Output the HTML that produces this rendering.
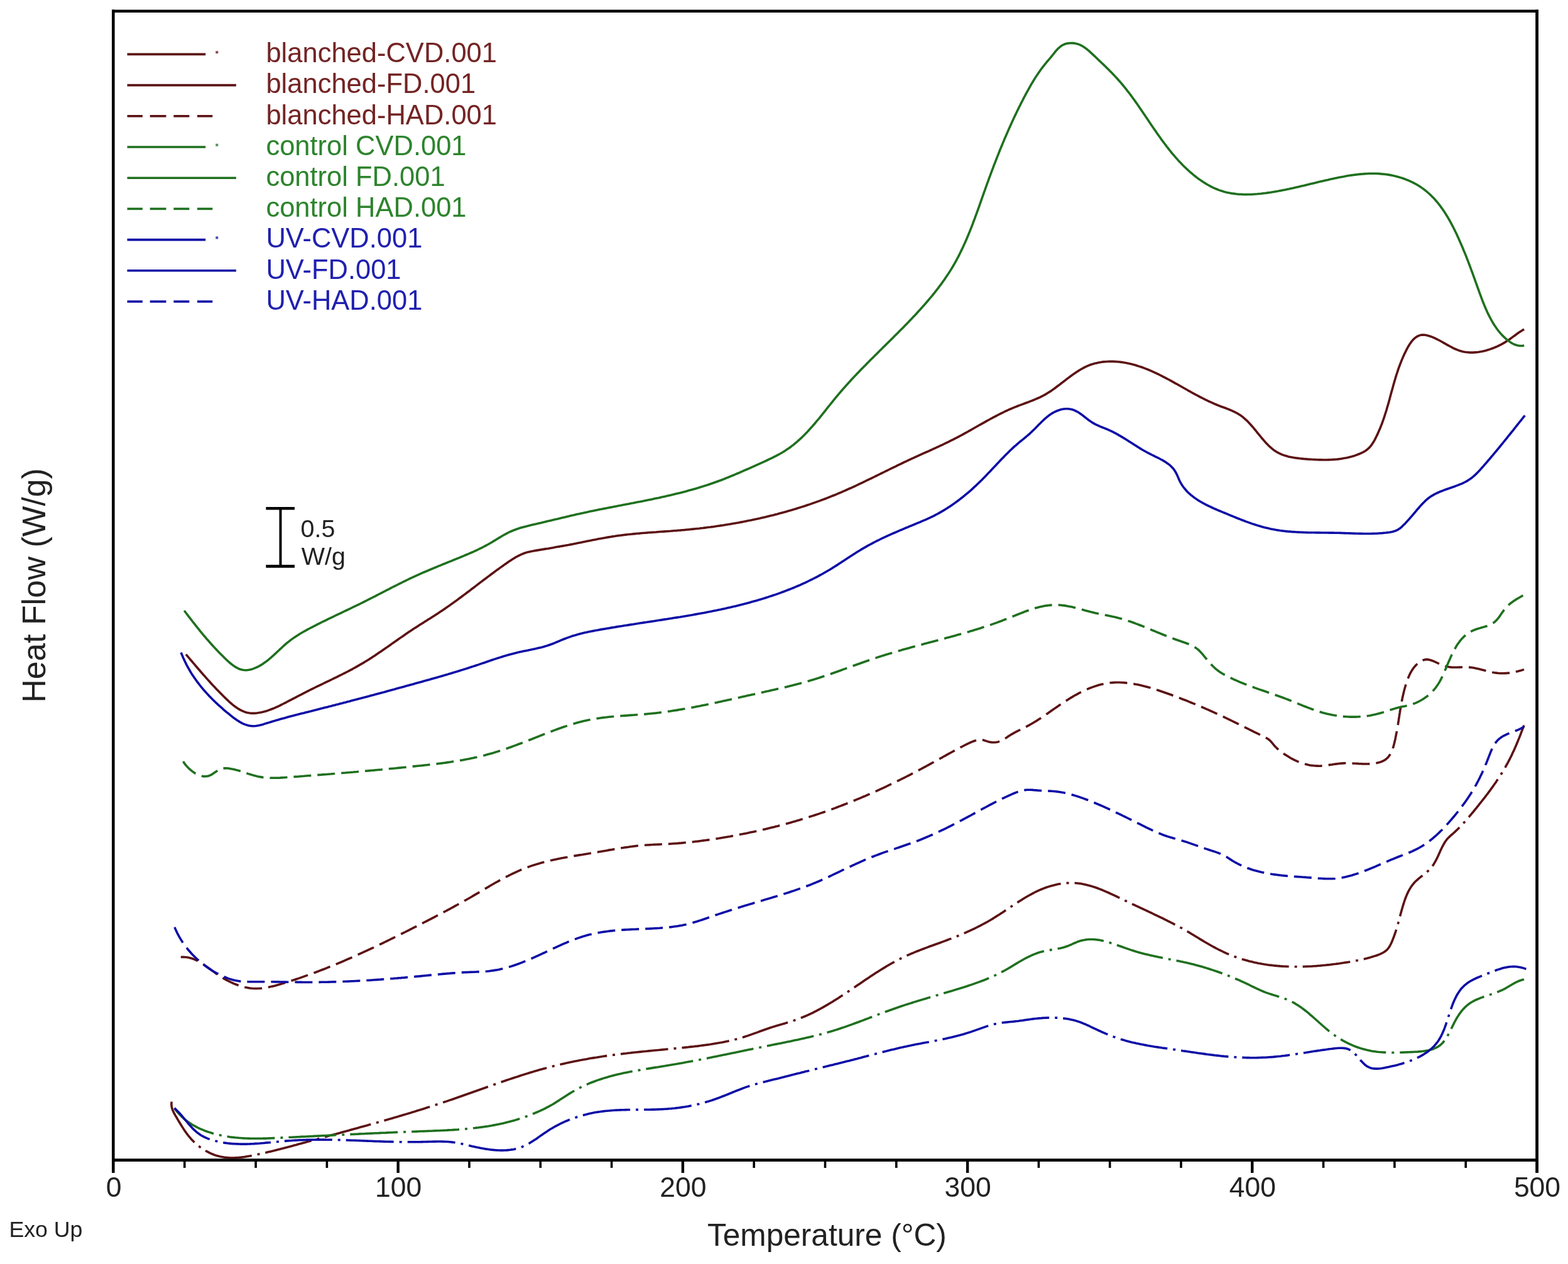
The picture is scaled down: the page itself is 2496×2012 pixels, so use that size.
<!DOCTYPE html>
<html><head><meta charset="utf-8"><title>DSC heat flow</title>
<style>
html,body{margin:0;padding:0;background:#fff;}
body{width:2496px;height:2012px;overflow:hidden;}
svg{display:block;}
text{font-family:"Liberation Sans",Arial,sans-serif;}
</style></head><body>
<svg xmlns="http://www.w3.org/2000/svg" width="2496" height="2012" viewBox="0 0 2496 2012">
<rect width="2496" height="2012" fill="#fff"/>
<g fill="none" stroke-width="3.6" stroke-linejoin="round">
<path stroke="#5c1214" stroke-dasharray="76 9 4 9" d="M273.2,1753.6L272.9,1756.8L273,1759.8L273.5,1762.8L274.3,1765.6L275.4,1768.4L276.7,1771.1L278.1,1773.7L279.6,1776.4L281.2,1779L282.7,1781.6L284.2,1784.2L285.8,1786.8L287.3,1789.3L288.9,1791.9L290.5,1794.4L292.1,1796.9L293.7,1799.4L295.4,1801.8L297.1,1804.2L298.9,1806.5L300.7,1808.9L302.7,1811.1L304.6,1813.4L306.7,1815.6L308.8,1817.7L311,1819.7L313.3,1821.8L315.7,1823.7L318.1,1825.6L320.5,1827.4L323.1,1829.1L325.7,1830.7L328.3,1832.3L331,1833.7L333.7,1835.1L336.4,1836.4L339.2,1837.5L342,1838.6L344.8,1839.5L347.7,1840.3L350.6,1841L353.5,1841.6L356.4,1842.1L359.3,1842.4L362.2,1842.7L365.2,1842.9L368.1,1843L371.1,1843L374,1842.9L377,1842.7L380,1842.5L383,1842.2L386,1841.9L389,1841.5L392,1841L395,1840.5L398,1840L401,1839.4L403.9,1838.8L406.9,1838.2L409.9,1837.6L412.9,1836.9L415.9,1836.3L418.8,1835.6L421.8,1835L424.7,1834.3L427.7,1833.6L430.6,1832.9L433.5,1832.2L436.5,1831.5L439.4,1830.7L442.3,1830L445.2,1829.3L448.1,1828.5L451.1,1827.8L454,1827L456.9,1826.2L459.8,1825.5L462.7,1824.7L465.6,1823.9L468.5,1823.1L471.3,1822.4L474.2,1821.6L477.1,1820.8L480,1820L482.9,1819.2L485.8,1818.4L488.7,1817.6L491.6,1816.8L494.4,1816L497.3,1815.2L500.2,1814.4L503.1,1813.6L506,1812.9L508.9,1812.1L511.8,1811.3L514.7,1810.5L517.6,1809.7L520.4,1808.9L523.3,1808.1L526.2,1807.3L529.1,1806.5L532,1805.7L534.9,1805L537.8,1804.2L540.7,1803.4L543.6,1802.6L546.5,1801.8L549.4,1801L552.3,1800.2L555.2,1799.4L558.1,1798.6L561,1797.8L563.8,1797L566.7,1796.2L569.6,1795.4L572.5,1794.6L575.4,1793.8L578.3,1793L581.2,1792.2L584.1,1791.4L587,1790.6L589.9,1789.8L592.8,1789L595.7,1788.2L598.6,1787.3L601.5,1786.5L604.3,1785.7L607.2,1784.9L610.1,1784.1L613,1783.2L615.9,1782.4L618.8,1781.6L621.7,1780.7L624.6,1779.9L627.4,1779.1L630.3,1778.2L633.2,1777.4L636.1,1776.5L639,1775.7L641.8,1774.8L644.7,1774L647.6,1773.1L650.5,1772.2L653.4,1771.4L656.2,1770.5L659.1,1769.6L662,1768.7L664.8,1767.8L667.7,1766.9L670.6,1766.1L673.4,1765.2L676.3,1764.3L679.2,1763.3L682,1762.4L684.9,1761.5L687.8,1760.6L690.6,1759.7L693.5,1758.7L696.3,1757.8L699.2,1756.9L702,1755.9L704.9,1755L707.7,1754L710.6,1753.1L713.4,1752.1L716.3,1751.1L719.1,1750.2L721.9,1749.2L724.8,1748.2L727.6,1747.2L730.4,1746.2L733.3,1745.2L736.1,1744.2L738.9,1743.2L741.8,1742.2L744.6,1741.2L747.4,1740.2L750.3,1739.2L753.1,1738.2L755.9,1737.2L758.7,1736.2L761.6,1735.2L764.4,1734.2L767.2,1733.2L770.1,1732.2L772.9,1731.2L775.7,1730.2L778.5,1729.2L781.4,1728.2L784.2,1727.2L787,1726.2L789.9,1725.2L792.7,1724.2L795.5,1723.2L798.4,1722.2L801.2,1721.3L804.1,1720.3L806.9,1719.3L809.7,1718.4L812.6,1717.4L815.4,1716.5L818.3,1715.5L821.1,1714.6L824,1713.7L826.8,1712.7L829.7,1711.8L832.5,1710.9L835.4,1710L838.2,1709.1L841.1,1708.2L844,1707.3L846.8,1706.5L849.7,1705.6L852.6,1704.8L855.5,1703.9L858.4,1703.1L861.2,1702.3L864.1,1701.5L867,1700.7L869.9,1699.9L872.8,1699.1L875.7,1698.4L878.6,1697.6L881.5,1696.9L884.4,1696.2L887.4,1695.4L890.3,1694.7L893.2,1694.1L896.1,1693.4L899.1,1692.7L902,1692.1L904.9,1691.4L907.9,1690.8L910.8,1690.2L913.8,1689.6L916.7,1689L919.7,1688.4L922.6,1687.8L925.6,1687.3L928.6,1686.7L931.5,1686.2L934.5,1685.7L937.5,1685.1L940.4,1684.6L943.4,1684.1L946.4,1683.6L949.3,1683.2L952.3,1682.7L955.3,1682.2L958.3,1681.8L961.2,1681.3L964.2,1680.9L967.2,1680.5L970.2,1680.1L973.2,1679.6L976.2,1679.2L979.1,1678.9L982.1,1678.5L985.1,1678.1L988.1,1677.7L991.1,1677.4L994.1,1677L997,1676.7L1000,1676.3L1003,1676L1006,1675.6L1009,1675.3L1012,1675L1014.9,1674.7L1017.9,1674.4L1020.9,1674.1L1023.9,1673.8L1026.9,1673.5L1029.8,1673.2L1032.8,1672.9L1035.8,1672.6L1038.8,1672.3L1041.8,1672L1044.8,1671.7L1047.7,1671.5L1050.7,1671.2L1053.7,1670.9L1056.7,1670.6L1059.7,1670.3L1062.7,1670L1065.7,1669.8L1068.6,1669.5L1071.6,1669.2L1074.6,1668.9L1077.6,1668.6L1080.6,1668.3L1083.6,1668L1086.6,1667.7L1089.5,1667.4L1092.5,1667.1L1095.5,1666.8L1098.5,1666.4L1101.5,1666.1L1104.5,1665.8L1107.5,1665.4L1110.5,1665.1L1113.5,1664.7L1116.4,1664.3L1119.4,1663.9L1122.4,1663.5L1125.4,1663.1L1128.4,1662.7L1131.3,1662.3L1134.3,1661.8L1137.3,1661.3L1140.2,1660.8L1143.2,1660.3L1146.1,1659.8L1149.1,1659.3L1152,1658.7L1155,1658.1L1157.9,1657.5L1160.8,1656.8L1163.8,1656.2L1166.7,1655.5L1169.6,1654.7L1172.5,1654L1175.4,1653.2L1178.3,1652.4L1181.1,1651.6L1184,1650.7L1186.9,1649.8L1189.7,1648.9L1192.5,1647.9L1195.4,1646.9L1198.2,1645.9L1201,1644.9L1203.9,1643.9L1206.7,1642.9L1209.5,1641.8L1212.4,1640.8L1215.2,1639.8L1218,1638.8L1220.9,1637.8L1223.7,1636.8L1226.6,1635.8L1229.4,1634.9L1232.3,1634L1235.2,1633.1L1238.1,1632.3L1240.9,1631.4L1243.8,1630.6L1246.7,1629.7L1249.6,1628.9L1252.5,1628L1255.4,1627.2L1258.3,1626.3L1261.1,1625.4L1264,1624.4L1266.8,1623.4L1269.6,1622.4L1272.4,1621.4L1275.2,1620.3L1277.9,1619.2L1280.7,1618L1283.4,1616.8L1286.2,1615.6L1288.9,1614.3L1291.6,1613.1L1294.3,1611.8L1296.9,1610.4L1299.6,1609.1L1302.2,1607.7L1304.9,1606.3L1307.5,1604.8L1310.1,1603.4L1312.7,1601.9L1315.3,1600.4L1317.9,1598.9L1320.5,1597.3L1323.1,1595.8L1325.7,1594.2L1328.2,1592.6L1330.8,1591L1333.3,1589.4L1335.9,1587.8L1338.4,1586.1L1340.9,1584.5L1343.5,1582.8L1346,1581.2L1348.5,1579.5L1351,1577.8L1353.5,1576.1L1356,1574.4L1358.5,1572.7L1361,1571L1363.5,1569.3L1366,1567.6L1368.5,1565.9L1371,1564.2L1373.5,1562.5L1376,1560.8L1378.5,1559.1L1381,1557.4L1383.5,1555.8L1386,1554.1L1388.5,1552.4L1391.1,1550.8L1393.6,1549.1L1396.1,1547.5L1398.6,1545.9L1401.2,1544.3L1403.7,1542.7L1406.3,1541.1L1408.8,1539.6L1411.4,1538L1414,1536.5L1416.6,1535L1419.2,1533.5L1421.8,1532.1L1424.4,1530.6L1427,1529.2L1429.7,1527.8L1432.3,1526.5L1435,1525.2L1437.7,1523.8L1440.4,1522.6L1443.1,1521.3L1445.8,1520.1L1448.6,1518.9L1451.3,1517.7L1454.1,1516.6L1456.8,1515.4L1459.6,1514.3L1462.4,1513.2L1465.2,1512.1L1468,1511L1470.8,1510L1473.6,1508.9L1476.4,1507.9L1479.2,1506.8L1482,1505.8L1484.9,1504.8L1487.7,1503.7L1490.5,1502.7L1493.3,1501.7L1496.2,1500.7L1499,1499.6L1501.8,1498.6L1504.6,1497.6L1507.4,1496.5L1510.2,1495.4L1513,1494.4L1515.8,1493.3L1518.6,1492.2L1521.4,1491.1L1524.2,1490L1527,1488.8L1529.7,1487.7L1532.5,1486.5L1535.2,1485.3L1538,1484.1L1540.7,1482.9L1543.5,1481.7L1546.2,1480.4L1548.9,1479.1L1551.6,1477.8L1554.3,1476.5L1556.9,1475.2L1559.6,1473.8L1562.3,1472.4L1564.9,1471L1567.6,1469.6L1570.2,1468.2L1572.8,1466.7L1575.4,1465.2L1578,1463.7L1580.6,1462.1L1583.1,1460.5L1585.7,1458.9L1588.2,1457.3L1590.8,1455.7L1593.3,1454L1595.8,1452.4L1598.3,1450.7L1600.8,1449L1603.4,1447.3L1605.9,1445.6L1608.4,1444L1610.9,1442.3L1613.4,1440.6L1615.9,1438.9L1618.5,1437.3L1621,1435.6L1623.6,1434L1626.1,1432.4L1628.7,1430.8L1631.2,1429.2L1633.8,1427.7L1636.4,1426.2L1639.1,1424.7L1641.7,1423.3L1644.4,1421.9L1647,1420.5L1649.7,1419.2L1652.4,1417.9L1655.2,1416.7L1658,1415.5L1660.7,1414.4L1663.6,1413.3L1666.4,1412.3L1669.2,1411.4L1672.1,1410.5L1675,1409.7L1677.9,1408.9L1680.8,1408.2L1683.7,1407.6L1686.6,1407L1689.5,1406.6L1692.5,1406.2L1695.4,1405.9L1698.3,1405.6L1701.3,1405.5L1704.2,1405.4L1707.2,1405.4L1710.1,1405.5L1713,1405.7L1715.9,1406L1718.8,1406.4L1721.8,1406.8L1724.7,1407.4L1727.5,1408L1730.4,1408.7L1733.3,1409.4L1736.2,1410.2L1739.1,1411.1L1741.9,1412L1744.8,1413L1747.6,1414L1750.5,1415.1L1753.3,1416.2L1756.1,1417.4L1758.9,1418.6L1761.8,1419.8L1764.6,1421L1767.4,1422.3L1770.2,1423.6L1773,1424.9L1775.7,1426.2L1778.5,1427.5L1781.3,1428.9L1784,1430.2L1786.8,1431.5L1789.5,1432.9L1792.3,1434.2L1795,1435.5L1797.7,1436.8L1800.4,1438.1L1803.1,1439.3L1805.9,1440.6L1808.6,1441.9L1811.3,1443.1L1814,1444.4L1816.6,1445.7L1819.3,1446.9L1822,1448.2L1824.7,1449.4L1827.4,1450.7L1830.1,1452L1832.8,1453.2L1835.4,1454.5L1838.1,1455.8L1840.8,1457L1843.5,1458.3L1846.2,1459.6L1848.9,1460.9L1851.6,1462.2L1854.3,1463.6L1857,1464.9L1859.7,1466.3L1862.4,1467.6L1865.1,1469L1867.8,1470.4L1870.5,1471.8L1873.2,1473.2L1875.9,1474.6L1878.6,1476.1L1881.3,1477.5L1883.9,1479L1886.5,1480.5L1889.1,1482L1891.6,1483.5L1894.1,1484.9L1896.6,1486.5L1899.1,1488L1901.6,1489.5L1904.1,1491L1906.6,1492.5L1909.1,1494.1L1911.7,1495.6L1914.2,1497.1L1916.8,1498.7L1919.4,1500.2L1922,1501.7L1924.6,1503.2L1927.2,1504.7L1929.9,1506.2L1932.5,1507.6L1935.2,1509.1L1937.9,1510.5L1940.6,1511.8L1943.3,1513.2L1946,1514.5L1948.8,1515.8L1951.5,1517.1L1954.3,1518.3L1957.1,1519.5L1959.8,1520.6L1962.6,1521.7L1965.4,1522.8L1968.3,1523.8L1971.1,1524.8L1973.9,1525.7L1976.8,1526.6L1979.6,1527.5L1982.5,1528.3L1985.4,1529.1L1988.3,1529.9L1991.2,1530.6L1994.1,1531.3L1997,1532L1999.9,1532.6L2002.8,1533.2L2005.7,1533.7L2008.7,1534.3L2011.6,1534.8L2014.6,1535.2L2017.5,1535.7L2020.5,1536.1L2023.4,1536.4L2026.4,1536.8L2029.4,1537.1L2032.4,1537.4L2035.3,1537.6L2038.3,1537.9L2041.3,1538.1L2044.3,1538.3L2047.3,1538.4L2050.3,1538.5L2053.3,1538.6L2056.3,1538.7L2059.3,1538.8L2062.4,1538.8L2065.4,1538.8L2068.4,1538.8L2071.4,1538.7L2074.4,1538.6L2077.4,1538.5L2080.4,1538.4L2083.5,1538.3L2086.5,1538.2L2089.5,1538L2092.5,1537.8L2095.5,1537.6L2098.5,1537.3L2101.6,1537.1L2104.6,1536.8L2107.6,1536.5L2110.6,1536.2L2113.6,1535.9L2116.6,1535.6L2119.6,1535.2L2122.6,1534.8L2125.6,1534.5L2128.5,1534.1L2131.5,1533.7L2134.5,1533.2L2137.5,1532.8L2140.4,1532.3L2143.4,1531.9L2146.3,1531.4L2149.3,1530.9L2152.2,1530.4L2155.2,1529.9L2158.1,1529.3L2161,1528.8L2164,1528.2L2166.9,1527.6L2169.8,1526.9L2172.7,1526.2L2175.6,1525.5L2178.5,1524.7L2181.4,1523.9L2184.3,1523L2187.2,1522.1L2190.1,1521.2L2193,1520.2L2195.9,1519.1L2198.7,1517.9L2201.4,1516.5L2203.9,1515L2206.3,1513.3L2208.4,1511.3L2210.2,1509L2211.9,1506.6L2213.3,1504L2214.7,1501.2L2215.9,1498.5L2217,1495.7L2218.1,1492.8L2219.2,1490L2220.2,1487.2L2221.1,1484.4L2222.1,1481.5L2222.9,1478.7L2223.8,1475.8L2224.6,1472.9L2225.5,1470L2226.3,1467.2L2227.1,1464.3L2227.8,1461.4L2228.6,1458.4L2229.4,1455.5L2230.2,1452.6L2231,1449.7L2231.8,1446.7L2232.7,1443.8L2233.5,1440.9L2234.5,1437.9L2235.4,1435L2236.4,1432.1L2237.4,1429.2L2238.6,1426.4L2239.7,1423.6L2241,1420.9L2242.3,1418.2L2243.8,1415.6L2245.3,1413.1L2246.9,1410.6L2248.6,1408.3L2250.5,1406L2252.5,1403.8L2254.6,1401.8L2256.8,1399.8L2259,1397.9L2261.3,1396.1L2263.7,1394.3L2266,1392.5L2268.3,1390.6L2270.5,1388.8L2272.7,1386.9L2274.8,1384.9L2276.8,1382.8L2278.7,1380.5L2280.5,1378.2L2282.2,1375.7L2283.7,1373.1L2285.2,1370.5L2286.6,1367.8L2288,1365.1L2289.3,1362.3L2290.5,1359.5L2291.8,1356.7L2293,1353.9L2294.3,1351.2L2295.6,1348.5L2297,1345.8L2298.4,1343.3L2299.9,1340.8L2301.6,1338.3L2303.3,1336L2305.2,1333.9L2307.3,1331.8L2309.4,1329.9L2311.7,1328L2313.9,1326L2316,1324.1L2318.2,1322L2320.3,1320L2322.4,1317.9L2324.5,1315.8L2326.5,1313.6L2328.6,1311.5L2330.6,1309.3L2332.6,1307L2334.6,1304.8L2336.5,1302.5L2338.5,1300.2L2340.4,1297.9L2342.3,1295.6L2344.3,1293.3L2346.2,1291L2348.1,1288.6L2350,1286.3L2351.9,1283.9L2353.8,1281.6L2355.6,1279.2L2357.5,1276.9L2359.4,1274.5L2361.2,1272.1L2363.1,1269.8L2364.9,1267.4L2366.8,1265L2368.6,1262.6L2370.4,1260.2L2372.2,1257.8L2373.9,1255.3L2375.7,1252.9L2377.4,1250.5L2379.1,1248L2380.9,1245.6L2382.5,1243.1L2384.2,1240.6L2385.9,1238.1L2387.5,1235.6L2389.1,1233.1L2390.7,1230.5L2392.2,1228L2393.8,1225.4L2395.3,1222.8L2396.8,1220.2L2398.2,1217.6L2399.7,1215L2401.1,1212.4L2402.5,1209.7L2403.8,1207L2405.2,1204.4L2406.5,1201.7L2407.7,1198.9L2409,1196.2L2410.3,1193.5L2411.5,1190.7L2412.7,1188L2413.9,1185.2L2415,1182.5L2416.2,1179.7L2417.3,1176.9L2418.5,1174.1L2419.6,1171.3L2420.7,1168.5L2421.7,1165.7L2422.8,1162.9L2423.9,1160.1L2424.9,1157.3L2426,1154.5"/>
<path stroke="#5c1214" d="M296.1,1041.7L298.1,1044.1L300.1,1046.4L302,1048.7L304,1051L306,1053.3L307.9,1055.6L309.9,1057.9L311.8,1060.2L313.8,1062.5L315.7,1064.7L317.7,1067L319.6,1069.2L321.6,1071.5L323.5,1073.7L325.5,1075.9L327.4,1078.1L329.4,1080.4L331.4,1082.6L333.4,1084.8L335.4,1087L337.4,1089.2L339.4,1091.4L341.5,1093.5L343.5,1095.7L345.6,1097.9L347.7,1100.1L349.8,1102.3L352,1104.4L354.1,1106.6L356.3,1108.8L358.5,1110.9L360.7,1113.1L363,1115.2L365.2,1117.3L367.6,1119.4L369.9,1121.4L372.3,1123.3L374.7,1125.1L377.2,1126.8L379.7,1128.4L382.2,1129.9L384.8,1131.2L387.5,1132.4L390.2,1133.4L392.9,1134.2L395.7,1134.8L398.6,1135.2L401.5,1135.4L404.5,1135.4L407.5,1135.2L410.5,1134.8L413.5,1134.3L416.5,1133.7L419.5,1133L422.4,1132.2L425.3,1131.4L428.1,1130.4L431,1129.3L433.8,1128.2L436.6,1127.1L439.4,1125.8L442.2,1124.6L445,1123.3L447.7,1121.9L450.5,1120.5L453.2,1119.2L455.9,1117.8L458.6,1116.3L461.3,1114.9L463.9,1113.6L466.6,1112.2L469.3,1110.8L471.9,1109.4L474.6,1108L477.2,1106.6L479.9,1105.3L482.6,1103.9L485.2,1102.6L487.9,1101.2L490.5,1099.9L493.2,1098.5L495.8,1097.2L498.5,1095.9L501.2,1094.5L503.9,1093.2L506.6,1091.9L509.3,1090.6L512,1089.3L514.7,1088L517.4,1086.7L520.1,1085.4L522.8,1084.1L525.5,1082.8L528.2,1081.5L530.9,1080.2L533.6,1078.9L536.3,1077.6L539,1076.2L541.7,1074.9L544.4,1073.5L547.1,1072.2L549.8,1070.8L552.4,1069.5L555.1,1068.1L557.8,1066.7L560.4,1065.3L563.1,1063.8L565.7,1062.4L568.3,1060.9L570.9,1059.4L573.5,1057.9L576.1,1056.4L578.7,1054.9L581.3,1053.3L583.8,1051.8L586.3,1050.2L588.9,1048.6L591.4,1046.9L593.9,1045.3L596.4,1043.7L598.9,1042L601.4,1040.3L603.9,1038.6L606.4,1036.9L608.8,1035.2L611.3,1033.5L613.8,1031.8L616.2,1030.1L618.7,1028.4L621.1,1026.7L623.6,1024.9L626,1023.2L628.5,1021.5L631,1019.8L633.4,1018L635.9,1016.3L638.3,1014.6L640.8,1012.9L643.3,1011.2L645.7,1009.5L648.2,1007.8L650.7,1006.1L653.2,1004.4L655.7,1002.8L658.2,1001.1L660.7,999.5L663.3,997.9L665.8,996.2L668.3,994.6L670.9,993L673.4,991.4L675.9,989.8L678.5,988.2L681,986.6L683.6,985L686.1,983.4L688.6,981.8L691.2,980.2L693.7,978.6L696.2,976.9L698.7,975.3L701.2,973.6L703.7,971.9L706.2,970.2L708.7,968.5L711.2,966.8L713.6,965.1L716.1,963.4L718.5,961.6L721,959.9L723.4,958.1L725.9,956.4L728.3,954.6L730.7,952.8L733.1,951L735.6,949.2L738,947.4L740.4,945.6L742.8,943.8L745.2,942L747.6,940.2L750,938.3L752.4,936.5L754.8,934.7L757.2,932.9L759.5,931.1L761.9,929.2L764.3,927.4L766.7,925.6L769.1,923.8L771.5,922L773.9,920.2L776.3,918.4L778.7,916.6L781.1,914.8L783.5,913L785.9,911.2L788.3,909.4L790.7,907.6L793.2,905.9L795.6,904.1L798,902.4L800.4,900.7L802.9,898.9L805.3,897.2L807.8,895.5L810.2,893.8L812.7,892.2L815.2,890.6L817.7,889L820.2,887.4L822.8,886L825.4,884.6L828.1,883.3L830.8,882.1L833.5,881L836.3,880L839.2,879.1L842.1,878.4L845.1,877.7L848.1,877.2L851.1,876.6L854.1,876.1L857.1,875.6L860.1,875.1L863.1,874.6L866.1,874.1L869.1,873.6L872.1,873.2L875,872.7L878,872.2L880.9,871.7L883.9,871.1L886.8,870.6L889.8,870.1L892.7,869.6L895.7,869.1L898.6,868.6L901.6,868L904.5,867.5L907.4,866.9L910.4,866.4L913.3,865.8L916.3,865.2L919.2,864.6L922.2,864L925.1,863.4L928,862.8L931,862.2L933.9,861.6L936.9,861L939.9,860.4L942.8,859.8L945.8,859.2L948.7,858.7L951.7,858.1L954.6,857.5L957.6,857L960.6,856.4L963.5,855.9L966.5,855.4L969.5,854.9L972.4,854.4L975.4,853.9L978.4,853.5L981.3,853L984.3,852.6L987.3,852.2L990.3,851.9L993.2,851.5L996.2,851.1L999.2,850.8L1002.2,850.5L1005.2,850.2L1008.1,849.9L1011.1,849.6L1014.1,849.3L1017.1,849.1L1020.1,848.8L1023.1,848.5L1026.1,848.3L1029,848.1L1032,847.8L1035,847.6L1038,847.4L1041,847.2L1044,847L1047,846.7L1050,846.5L1053,846.3L1056,846.1L1059,845.9L1061.9,845.7L1064.9,845.5L1067.9,845.3L1070.9,845L1073.9,844.8L1076.9,844.6L1079.9,844.3L1082.9,844.1L1085.9,843.8L1088.9,843.6L1091.9,843.3L1094.9,843L1097.9,842.7L1100.8,842.4L1103.8,842.1L1106.8,841.8L1109.8,841.5L1112.8,841.2L1115.8,840.8L1118.8,840.5L1121.8,840.1L1124.7,839.7L1127.7,839.3L1130.7,839L1133.7,838.6L1136.7,838.2L1139.6,837.7L1142.6,837.3L1145.6,836.9L1148.6,836.4L1151.6,836L1154.5,835.5L1157.5,835L1160.5,834.5L1163.4,834.1L1166.4,833.5L1169.4,833L1172.3,832.5L1175.3,832L1178.2,831.4L1181.2,830.9L1184.1,830.3L1187.1,829.7L1190.1,829.1L1193,828.6L1195.9,827.9L1198.9,827.3L1201.8,826.7L1204.8,826.1L1207.7,825.4L1210.6,824.8L1213.6,824.1L1216.5,823.4L1219.4,822.7L1222.3,822L1225.3,821.3L1228.2,820.6L1231.1,819.9L1234,819.1L1236.9,818.4L1239.8,817.6L1242.7,816.8L1245.6,816L1248.5,815.2L1251.4,814.4L1254.3,813.6L1257.2,812.8L1260.1,811.9L1262.9,811.1L1265.8,810.2L1268.7,809.3L1271.5,808.4L1274.4,807.5L1277.3,806.6L1280.1,805.7L1283,804.8L1285.8,803.8L1288.7,802.9L1291.5,801.9L1294.3,800.9L1297.2,799.9L1300,798.9L1302.8,797.9L1305.6,796.9L1308.4,795.8L1311.3,794.8L1314.1,793.7L1316.9,792.6L1319.7,791.5L1322.4,790.4L1325.2,789.3L1328,788.2L1330.8,787.1L1333.6,785.9L1336.3,784.7L1339.1,783.6L1341.8,782.4L1344.6,781.2L1347.3,780L1350.1,778.7L1352.8,777.5L1355.6,776.3L1358.3,775L1361,773.8L1363.7,772.5L1366.5,771.2L1369.2,769.9L1371.9,768.6L1374.6,767.3L1377.3,766L1380,764.7L1382.7,763.4L1385.4,762.1L1388.1,760.8L1390.8,759.5L1393.5,758.2L1396.2,756.8L1398.9,755.5L1401.6,754.2L1404.3,752.8L1407,751.5L1409.7,750.2L1412.4,748.9L1415.1,747.5L1417.8,746.2L1420.5,744.9L1423.2,743.6L1425.9,742.3L1428.6,740.9L1431.3,739.6L1434,738.3L1436.8,737L1439.5,735.7L1442.2,734.5L1444.9,733.2L1447.6,731.9L1450.3,730.6L1453.1,729.4L1455.8,728.1L1458.5,726.9L1461.3,725.6L1464,724.4L1466.7,723.2L1469.5,721.9L1472.2,720.7L1474.9,719.5L1477.7,718.3L1480.4,717L1483.1,715.8L1485.8,714.5L1488.6,713.3L1491.3,712L1494,710.8L1496.7,709.5L1499.5,708.3L1502.2,707L1504.9,705.7L1507.6,704.4L1510.3,703.1L1513,701.7L1515.7,700.4L1518.3,699.1L1521,697.7L1523.7,696.3L1526.4,694.9L1529,693.5L1531.7,692.1L1534.3,690.6L1536.9,689.2L1539.6,687.7L1542.2,686.2L1544.8,684.8L1547.5,683.3L1550.1,681.8L1552.7,680.3L1555.4,678.8L1558,677.3L1560.6,675.8L1563.2,674.4L1565.9,672.9L1568.5,671.4L1571.1,669.9L1573.8,668.5L1576.4,667L1579,665.6L1581.7,664.2L1584.3,662.8L1587,661.4L1589.7,660L1592.3,658.7L1595,657.3L1597.7,656L1600.4,654.7L1603.1,653.5L1605.8,652.2L1608.6,651L1611.3,649.9L1614.1,648.7L1616.8,647.6L1619.6,646.5L1622.4,645.4L1625.2,644.4L1628,643.4L1630.8,642.3L1633.6,641.3L1636.4,640.3L1639.1,639.2L1641.9,638.1L1644.7,637L1647.4,635.9L1650.2,634.7L1652.9,633.5L1655.6,632.3L1658.3,630.9L1660.9,629.6L1663.6,628.1L1666.2,626.6L1668.7,625L1671.3,623.4L1673.8,621.7L1676.3,619.9L1678.8,618.2L1681.3,616.3L1683.7,614.5L1686.2,612.6L1688.6,610.8L1691.1,608.9L1693.5,607L1696,605.1L1698.4,603.2L1700.8,601.4L1703.3,599.5L1705.8,597.7L1708.2,595.9L1710.7,594.2L1713.2,592.5L1715.8,590.9L1718.3,589.3L1720.9,587.8L1723.5,586.3L1726.1,584.9L1728.7,583.6L1731.4,582.4L1734.1,581.3L1736.9,580.3L1739.7,579.4L1742.5,578.6L1745.4,577.9L1748.3,577.2L1751.2,576.7L1754.1,576.3L1757.1,575.9L1760.1,575.7L1763,575.5L1766,575.4L1769.1,575.4L1772.1,575.4L1775.1,575.6L1778.1,575.8L1781.1,576L1784.1,576.4L1787.1,576.8L1790.1,577.3L1793,577.8L1796,578.4L1798.9,579.1L1801.8,579.8L1804.7,580.5L1807.6,581.3L1810.4,582.2L1813.3,583.1L1816.1,584L1818.9,585L1821.8,586.1L1824.5,587.2L1827.3,588.3L1830.1,589.4L1832.9,590.6L1835.6,591.8L1838.4,593.1L1841.1,594.4L1843.8,595.7L1846.5,597L1849.2,598.4L1851.9,599.8L1854.6,601.2L1857.3,602.6L1860,604L1862.6,605.4L1865.3,606.9L1868,608.4L1870.6,609.9L1873.3,611.3L1875.9,612.8L1878.5,614.3L1881.2,615.8L1883.8,617.3L1886.5,618.8L1889.1,620.3L1891.7,621.8L1894.4,623.2L1897,624.7L1899.6,626.2L1902.3,627.6L1904.9,629L1907.6,630.4L1910.2,631.8L1912.9,633.2L1915.5,634.5L1918.2,635.9L1920.9,637.2L1923.5,638.5L1926.2,639.7L1929,640.9L1931.7,642.1L1934.5,643.3L1937.2,644.5L1940,645.6L1942.8,646.7L1945.6,647.7L1948.5,648.8L1951.3,649.8L1954.1,650.9L1956.9,652L1959.7,653.2L1962.4,654.4L1965.1,655.6L1967.8,657L1970.4,658.4L1972.9,660L1975.4,661.6L1977.8,663.4L1980.1,665.3L1982.3,667.3L1984.6,669.3L1986.7,671.5L1988.8,673.7L1990.9,676L1992.9,678.3L1995,680.6L1996.9,683L1998.9,685.4L2000.9,687.8L2002.8,690.3L2004.8,692.7L2006.8,695.1L2008.7,697.5L2010.7,699.8L2012.7,702.1L2014.7,704.4L2016.8,706.6L2018.9,708.7L2021,710.8L2023.2,712.7L2025.4,714.6L2027.7,716.4L2030.1,718L2032.5,719.5L2035,720.9L2037.6,722.2L2040.2,723.3L2042.9,724.4L2045.7,725.3L2048.5,726.1L2051.3,726.9L2054.2,727.5L2057.2,728.1L2060.1,728.6L2063.1,729L2066.1,729.4L2069.2,729.8L2072.2,730.1L2075.3,730.4L2078.4,730.6L2081.5,730.9L2084.5,731.1L2087.6,731.3L2090.7,731.5L2093.7,731.6L2096.8,731.7L2099.9,731.9L2102.9,731.9L2106,732L2109,732L2112,732L2115.1,731.9L2118.1,731.8L2121.1,731.6L2124.1,731.4L2127.1,731.2L2130,730.9L2133,730.5L2136,730.1L2138.9,729.6L2141.8,729.1L2144.7,728.5L2147.6,727.8L2150.5,727.1L2153.4,726.2L2156.2,725.4L2159,724.4L2161.8,723.3L2164.6,722.2L2167.4,721L2170.1,719.6L2172.6,718.2L2175.1,716.5L2177.4,714.7L2179.6,712.7L2181.6,710.4L2183.4,708.1L2185.1,705.6L2186.7,703L2188.2,700.3L2189.6,697.6L2191,694.8L2192.3,692.1L2193.6,689.3L2194.8,686.6L2196,683.8L2197.2,681L2198.3,678.2L2199.4,675.4L2200.4,672.6L2201.4,669.8L2202.4,667L2203.4,664.2L2204.3,661.3L2205.2,658.5L2206.1,655.7L2207,652.8L2207.8,650L2208.6,647.1L2209.5,644.3L2210.3,641.4L2211.1,638.5L2211.9,635.7L2212.6,632.8L2213.4,629.9L2214.2,627L2215,624.1L2215.8,621.3L2216.6,618.4L2217.4,615.5L2218.2,612.6L2219,609.7L2219.8,606.9L2220.7,604L2221.5,601.1L2222.4,598.2L2223.3,595.3L2224.3,592.5L2225.2,589.6L2226.2,586.7L2227.2,583.8L2228.3,581L2229.4,578.1L2230.5,575.3L2231.7,572.4L2232.9,569.6L2234.1,566.7L2235.4,563.9L2236.8,561.1L2238.2,558.2L2239.6,555.4L2241.1,552.7L2242.7,550L2244.3,547.4L2246,544.9L2247.8,542.6L2249.7,540.5L2251.7,538.6L2253.8,536.9L2256,535.5L2258.4,534.4L2260.8,533.6L2263.4,533.1L2266.1,533.1L2269,533.3L2271.9,533.9L2274.8,534.7L2277.8,535.7L2280.8,536.9L2283.8,538.2L2286.7,539.6L2289.6,541L2292.4,542.5L2295.1,544L2297.9,545.6L2300.6,547.1L2303.2,548.6L2305.9,550.1L2308.5,551.5L2311.2,552.9L2313.8,554.3L2316.5,555.5L2319.2,556.6L2321.9,557.7L2324.7,558.6L2327.5,559.4L2330.3,560L2333.2,560.5L2336.1,560.8L2339,561.1L2342,561.1L2345,561.1L2348,560.9L2351,560.7L2354.1,560.3L2357.1,559.8L2360.1,559.2L2363.1,558.5L2366.1,557.7L2369.1,556.8L2372.1,555.9L2375,554.8L2377.9,553.7L2380.8,552.5L2383.6,551.3L2386.4,549.9L2389.1,548.6L2391.8,547.1L2394.4,545.6L2396.9,544.1L2399.4,542.5L2401.8,540.9L2404.1,539.3L2406.4,537.6L2408.7,535.9L2411,534.2L2413.4,532.5L2415.7,530.8L2418.2,529.1L2420.7,527.4L2423.4,525.7L2426.1,524.1"/>
<path stroke="#5c1214" stroke-dasharray="28 10" d="M287.8,1523.5L291,1523.4L294.2,1523.5L297.2,1523.8L300.1,1524.2L303,1524.9L305.8,1525.7L308.5,1526.7L311.1,1527.8L313.8,1529L316.3,1530.4L318.8,1531.8L321.3,1533.4L323.8,1535L326.2,1536.7L328.7,1538.4L331.1,1540.2L333.5,1542L335.9,1543.8L338.4,1545.6L340.9,1547.4L343.4,1549.2L345.9,1551L348.5,1552.7L351,1554.4L353.7,1556L356.3,1557.6L359,1559.1L361.7,1560.6L364.4,1562L367.2,1563.4L369.9,1564.6L372.7,1565.9L375.6,1567L378.4,1568L381.2,1569L384.1,1569.9L387,1570.7L389.9,1571.4L392.8,1572L395.7,1572.6L398.6,1573L401.5,1573.3L404.5,1573.5L407.4,1573.5L410.4,1573.5L413.3,1573.3L416.3,1573.1L419.2,1572.7L422.2,1572.3L425.1,1571.8L428.1,1571.2L431.1,1570.6L434,1569.9L437,1569.2L439.9,1568.4L442.8,1567.6L445.8,1566.7L448.7,1565.8L451.6,1565L454.5,1564.1L457.4,1563.2L460.3,1562.2L463.2,1561.3L466,1560.4L468.9,1559.5L471.8,1558.5L474.6,1557.6L477.5,1556.6L480.3,1555.6L483.1,1554.6L485.9,1553.6L488.8,1552.6L491.6,1551.6L494.4,1550.6L497.2,1549.6L500,1548.6L502.8,1547.5L505.6,1546.5L508.4,1545.4L511.2,1544.3L514,1543.2L516.7,1542.2L519.5,1541.1L522.3,1539.9L525.1,1538.8L527.9,1537.7L530.6,1536.6L533.4,1535.4L536.2,1534.3L538.9,1533.1L541.7,1532L544.5,1530.8L547.2,1529.6L550,1528.4L552.7,1527.2L555.5,1526L558.2,1524.8L561,1523.6L563.7,1522.4L566.5,1521.2L569.2,1519.9L571.9,1518.7L574.7,1517.4L577.4,1516.2L580.1,1514.9L582.9,1513.7L585.6,1512.4L588.3,1511.1L591,1509.8L593.8,1508.6L596.5,1507.3L599.2,1506L601.9,1504.7L604.6,1503.4L607.3,1502.1L610,1500.8L612.7,1499.5L615.5,1498.1L618.2,1496.8L620.9,1495.5L623.6,1494.2L626.3,1492.8L629,1491.5L631.6,1490.2L634.3,1488.8L637,1487.5L639.7,1486.2L642.4,1484.8L645.1,1483.5L647.8,1482.1L650.5,1480.8L653.1,1479.4L655.8,1478.1L658.5,1476.7L661.2,1475.4L663.9,1474L666.5,1472.6L669.2,1471.3L671.9,1469.9L674.5,1468.5L677.2,1467.2L679.9,1465.8L682.5,1464.4L685.2,1463.1L687.9,1461.7L690.5,1460.3L693.2,1458.9L695.8,1457.5L698.5,1456.1L701.1,1454.7L703.8,1453.3L706.4,1451.9L709.1,1450.5L711.7,1449.1L714.4,1447.7L717,1446.3L719.6,1444.8L722.3,1443.4L724.9,1441.9L727.5,1440.5L730.1,1439L732.8,1437.6L735.4,1436.1L738,1434.6L740.6,1433.2L743.2,1431.7L745.9,1430.2L748.5,1428.7L751.1,1427.2L753.7,1425.6L756.3,1424.1L758.9,1422.6L761.5,1421.1L764.1,1419.5L766.7,1418L769.3,1416.4L771.9,1414.9L774.5,1413.4L777.1,1411.9L779.7,1410.3L782.3,1408.8L784.9,1407.3L787.5,1405.8L790.2,1404.3L792.8,1402.9L795.4,1401.4L798.1,1400L800.7,1398.5L803.3,1397.1L806,1395.7L808.7,1394.4L811.3,1393L814,1391.7L816.7,1390.4L819.4,1389.1L822.1,1387.8L824.8,1386.6L827.6,1385.4L830.3,1384.2L833.1,1383.1L835.8,1382L838.6,1380.9L841.4,1379.9L844.2,1378.9L847,1377.9L849.9,1377L852.7,1376.1L855.6,1375.2L858.5,1374.4L861.3,1373.5L864.2,1372.8L867.1,1372L870,1371.3L872.9,1370.5L875.9,1369.9L878.8,1369.2L881.7,1368.5L884.7,1367.9L887.6,1367.3L890.6,1366.7L893.6,1366.1L896.5,1365.6L899.5,1365L902.5,1364.5L905.5,1363.9L908.4,1363.4L911.4,1362.9L914.4,1362.4L917.4,1361.9L920.4,1361.4L923.4,1360.9L926.4,1360.5L929.3,1360L932.3,1359.5L935.3,1359L938.3,1358.5L941.3,1358L944.3,1357.6L947.2,1357.1L950.2,1356.6L953.2,1356L956.1,1355.5L959.1,1355L962,1354.5L965,1354L967.9,1353.4L970.9,1352.9L973.8,1352.4L976.8,1351.9L979.7,1351.4L982.7,1350.9L985.6,1350.4L988.5,1349.9L991.5,1349.5L994.4,1349L997.4,1348.6L1000.4,1348.2L1003.3,1347.7L1006.3,1347.4L1009.2,1347L1012.2,1346.6L1015.2,1346.3L1018.2,1346L1021.2,1345.7L1024.2,1345.5L1027.2,1345.2L1030.2,1345L1033.2,1344.9L1036.2,1344.7L1039.2,1344.5L1042.2,1344.4L1045.2,1344.3L1048.3,1344.1L1051.3,1344L1054.3,1343.8L1057.3,1343.7L1060.3,1343.5L1063.4,1343.4L1066.4,1343.2L1069.4,1343L1072.4,1342.8L1075.4,1342.6L1078.4,1342.4L1081.4,1342.1L1084.4,1341.9L1087.4,1341.6L1090.4,1341.3L1093.4,1341L1096.3,1340.7L1099.3,1340.4L1102.3,1340.1L1105.3,1339.8L1108.3,1339.4L1111.2,1339.1L1114.2,1338.7L1117.2,1338.3L1120.2,1337.9L1123.1,1337.5L1126.1,1337.1L1129.1,1336.7L1132,1336.3L1135,1335.8L1138,1335.4L1140.9,1334.9L1143.9,1334.5L1146.8,1334L1149.8,1333.5L1152.7,1333L1155.7,1332.5L1158.6,1332L1161.6,1331.5L1164.5,1330.9L1167.5,1330.4L1170.4,1329.8L1173.4,1329.3L1176.3,1328.7L1179.3,1328.1L1182.2,1327.6L1185.2,1327L1188.1,1326.4L1191.1,1325.8L1194,1325.1L1197,1324.5L1199.9,1323.9L1202.8,1323.3L1205.8,1322.6L1208.7,1321.9L1211.6,1321.3L1214.6,1320.6L1217.5,1319.9L1220.4,1319.2L1223.4,1318.5L1226.3,1317.8L1229.2,1317.1L1232.1,1316.4L1235.1,1315.6L1238,1314.9L1240.9,1314.1L1243.8,1313.4L1246.7,1312.6L1249.6,1311.8L1252.5,1311L1255.4,1310.2L1258.3,1309.4L1261.2,1308.6L1264.1,1307.7L1267,1306.9L1269.9,1306L1272.8,1305.2L1275.6,1304.3L1278.5,1303.4L1281.4,1302.6L1284.3,1301.7L1287.1,1300.7L1290,1299.8L1292.8,1298.9L1295.7,1298L1298.6,1297L1301.4,1296.1L1304.3,1295.1L1307.1,1294.1L1309.9,1293.2L1312.8,1292.2L1315.6,1291.2L1318.4,1290.2L1321.3,1289.2L1324.1,1288.1L1326.9,1287.1L1329.7,1286.1L1332.5,1285L1335.3,1283.9L1338.1,1282.9L1340.9,1281.8L1343.7,1280.7L1346.5,1279.6L1349.3,1278.5L1352.1,1277.4L1354.9,1276.3L1357.7,1275.2L1360.5,1274L1363.2,1272.9L1366,1271.7L1368.8,1270.6L1371.6,1269.4L1374.3,1268.2L1377.1,1267.1L1379.8,1265.9L1382.6,1264.7L1385.3,1263.5L1388.1,1262.3L1390.8,1261L1393.6,1259.8L1396.3,1258.6L1399,1257.3L1401.7,1256.1L1404.5,1254.8L1407.2,1253.6L1409.9,1252.3L1412.6,1251L1415.3,1249.7L1418,1248.4L1420.7,1247.1L1423.4,1245.8L1426.1,1244.5L1428.8,1243.2L1431.5,1241.9L1434.2,1240.5L1436.9,1239.2L1439.6,1237.9L1442.3,1236.5L1444.9,1235.1L1447.6,1233.8L1450.3,1232.4L1452.9,1231L1455.6,1229.6L1458.2,1228.2L1460.9,1226.8L1463.6,1225.4L1466.2,1224L1468.8,1222.6L1471.5,1221.2L1474.1,1219.8L1476.7,1218.3L1479.4,1216.9L1482,1215.4L1484.6,1214L1487.3,1212.5L1489.9,1211.1L1492.5,1209.6L1495.1,1208.2L1497.8,1206.7L1500.4,1205.3L1503,1203.8L1505.7,1202.4L1508.3,1200.9L1511,1199.4L1513.6,1198L1516.3,1196.5L1518.9,1195.1L1521.6,1193.7L1524.3,1192.2L1527,1190.8L1529.6,1189.4L1532.3,1188L1535.1,1186.5L1537.8,1185.2L1540.5,1183.8L1543.2,1182.5L1546,1181.3L1548.7,1180.2L1551.5,1179.2L1554.2,1178.3L1557,1177.6L1559.8,1177.3L1562.5,1177.5L1565.3,1178.1L1568.1,1178.9L1571,1179.9L1573.9,1180.8L1576.9,1181.4L1579.8,1181.8L1582.8,1181.8L1585.8,1181.5L1588.7,1180.9L1591.5,1180L1594.2,1178.8L1596.9,1177.4L1599.5,1175.8L1602.1,1174.2L1604.6,1172.4L1607.2,1170.8L1609.8,1169.1L1612.5,1167.6L1615.1,1166.1L1617.8,1164.7L1620.5,1163.3L1623.2,1162L1626,1160.7L1628.7,1159.4L1631.3,1158L1634,1156.6L1636.6,1155.2L1639.2,1153.8L1641.8,1152.3L1644.4,1150.8L1646.9,1149.3L1649.4,1147.7L1652,1146.1L1654.4,1144.5L1656.9,1142.9L1659.4,1141.2L1661.9,1139.5L1664.3,1137.9L1666.8,1136.2L1669.2,1134.5L1671.7,1132.8L1674.1,1131L1676.6,1129.3L1679,1127.6L1681.5,1125.9L1684,1124.2L1686.4,1122.5L1688.9,1120.8L1691.5,1119.1L1694,1117.4L1696.5,1115.8L1699.1,1114.2L1701.7,1112.5L1704.3,1110.9L1706.9,1109.4L1709.5,1107.8L1712.2,1106.3L1714.9,1104.9L1717.5,1103.4L1720.2,1102L1722.9,1100.7L1725.7,1099.4L1728.4,1098.1L1731.2,1096.9L1733.9,1095.7L1736.7,1094.6L1739.5,1093.6L1742.3,1092.6L1745.1,1091.7L1748,1090.8L1750.8,1090L1753.7,1089.3L1756.5,1088.7L1759.4,1088.1L1762.3,1087.6L1765.2,1087.2L1768.1,1086.8L1771,1086.6L1774,1086.4L1776.9,1086.3L1779.9,1086.3L1782.8,1086.3L1785.8,1086.5L1788.7,1086.6L1791.7,1086.9L1794.7,1087.2L1797.6,1087.5L1800.6,1087.9L1803.6,1088.4L1806.5,1088.9L1809.5,1089.5L1812.5,1090.1L1815.5,1090.8L1818.4,1091.5L1821.4,1092.2L1824.4,1093L1827.3,1093.8L1830.3,1094.6L1833.2,1095.5L1836.2,1096.4L1839.1,1097.3L1842,1098.3L1845,1099.2L1847.9,1100.2L1850.8,1101.2L1853.7,1102.2L1856.5,1103.2L1859.4,1104.2L1862.3,1105.3L1865.1,1106.3L1867.9,1107.4L1870.8,1108.4L1873.6,1109.5L1876.4,1110.5L1879.2,1111.6L1882,1112.7L1884.7,1113.8L1887.5,1114.8L1890.3,1115.9L1893,1117.1L1895.8,1118.2L1898.5,1119.3L1901.2,1120.4L1904,1121.6L1906.7,1122.7L1909.4,1123.9L1912.1,1125L1914.8,1126.2L1917.6,1127.4L1920.3,1128.6L1923,1129.7L1925.7,1131L1928.4,1132.2L1931.1,1133.4L1933.8,1134.6L1936.5,1135.9L1939.2,1137.1L1942,1138.4L1944.7,1139.6L1947.4,1140.9L1950.1,1142.2L1952.8,1143.5L1955.6,1144.8L1958.3,1146.1L1961.1,1147.5L1963.8,1148.8L1966.5,1150.2L1969.3,1151.5L1972,1152.9L1974.8,1154.2L1977.5,1155.6L1980.2,1156.9L1983,1158.3L1985.7,1159.6L1988.4,1161L1991.1,1162.4L1993.8,1163.7L1996.5,1165.1L1999.2,1166.4L2001.9,1167.7L2004.6,1169L2007.2,1170.4L2009.8,1171.7L2012.5,1173L2015.1,1174.3L2017.6,1175.7L2019.9,1177.3L2022,1179.2L2024,1181.3L2025.9,1183.6L2027.8,1186L2029.8,1188.2L2031.9,1190.3L2034.1,1192.3L2036.4,1194.2L2038.8,1196.1L2041.2,1197.9L2043.6,1199.7L2046.1,1201.4L2048.7,1203L2051.2,1204.6L2053.8,1206.2L2056.5,1207.7L2059.2,1209.1L2061.9,1210.4L2064.6,1211.6L2067.4,1212.8L2070.2,1213.9L2073.1,1214.9L2075.9,1215.8L2078.8,1216.6L2081.7,1217.3L2084.7,1217.9L2087.6,1218.4L2090.6,1218.7L2093.5,1219L2096.5,1219.1L2099.5,1219.2L2102.4,1219.1L2105.4,1218.9L2108.4,1218.6L2111.4,1218.2L2114.4,1217.8L2117.4,1217.4L2120.4,1217L2123.4,1216.5L2126.4,1216.1L2129.4,1215.7L2132.4,1215.4L2135.4,1215.1L2138.4,1214.9L2141.5,1214.8L2144.5,1214.8L2147.6,1214.8L2150.6,1214.9L2153.6,1215.1L2156.7,1215.2L2159.7,1215.4L2162.8,1215.6L2165.8,1215.7L2168.8,1215.9L2171.9,1216L2174.9,1216L2177.9,1216L2180.9,1215.8L2183.9,1215.6L2186.8,1215.3L2189.8,1214.9L2192.7,1214.3L2195.7,1213.5L2198.5,1212.6L2201.2,1211.5L2203.8,1210.2L2206.2,1208.5L2208.3,1206.7L2210.2,1204.6L2211.9,1202.3L2213.4,1199.8L2214.8,1197.1L2216,1194.3L2217.1,1191.4L2218.1,1188.4L2218.9,1185.4L2219.7,1182.3L2220.4,1179.2L2221.1,1176.1L2221.7,1173L2222.3,1170L2222.9,1167L2223.5,1164L2224,1161.1L2224.5,1158.1L2225,1155.2L2225.5,1152.3L2225.9,1149.4L2226.4,1146.5L2226.8,1143.6L2227.3,1140.7L2227.7,1137.8L2228.2,1135L2228.6,1132.1L2229.1,1129.2L2229.6,1126.3L2230.1,1123.4L2230.6,1120.5L2231.1,1117.5L2231.7,1114.6L2232.3,1111.7L2232.9,1108.8L2233.6,1105.8L2234.3,1102.9L2235,1099.9L2235.8,1096.9L2236.6,1093.9L2237.5,1090.9L2238.4,1087.9L2239.4,1084.9L2240.5,1082L2241.6,1079.1L2242.8,1076.2L2244.1,1073.4L2245.5,1070.7L2247,1068L2248.6,1065.5L2250.3,1063.1L2252.1,1060.8L2254,1058.7L2256.1,1056.7L2258.3,1054.9L2260.6,1053.3L2263.1,1051.8L2265.7,1050.7L2268.5,1049.9L2271.3,1049.6L2274.2,1049.9L2277.1,1050.7L2280,1051.7L2282.9,1052.9L2285.7,1054.1L2288.6,1055.5L2291.4,1056.8L2294.2,1058L2297,1059.1L2299.9,1060.1L2302.7,1060.9L2305.6,1061.5L2308.5,1061.9L2311.4,1062.2L2314.4,1062.3L2317.3,1062.3L2320.3,1062.2L2323.3,1062.1L2326.3,1062L2329.2,1061.9L2332.2,1061.9L2335.2,1061.9L2338.1,1062.1L2341.1,1062.4L2344,1062.8L2347,1063.3L2349.9,1063.9L2352.8,1064.5L2355.7,1065.2L2358.6,1066L2361.6,1066.7L2364.5,1067.5L2367.4,1068.2L2370.3,1068.9L2373.2,1069.6L2376.1,1070.2L2379,1070.7L2381.9,1071.1L2384.8,1071.5L2387.8,1071.7L2390.7,1071.8L2393.6,1071.8L2396.6,1071.6L2399.5,1071.4L2402.5,1071.1L2405.4,1070.7L2408.3,1070.2L2411.3,1069.7L2414.2,1069L2417.2,1068.3L2420.1,1067.5L2423.1,1066.6L2426,1065.6"/>
<path stroke="#1f701f" stroke-dasharray="76 9 4 9" d="M277.7,1763.9L279.5,1766.4L281.3,1768.8L283.2,1771.1L285.3,1773.4L287.3,1775.5L289.5,1777.6L291.7,1779.6L293.9,1781.6L296.3,1783.4L298.6,1785.2L301.1,1786.9L303.6,1788.6L306.1,1790.2L308.7,1791.7L311.3,1793.1L313.9,1794.5L316.6,1795.8L319.4,1797.1L322.1,1798.2L324.9,1799.4L327.7,1800.5L330.6,1801.5L333.5,1802.4L336.3,1803.3L339.2,1804.2L342.1,1805L345.1,1805.7L348,1806.4L350.9,1807.1L353.9,1807.7L356.8,1808.2L359.8,1808.8L362.7,1809.2L365.7,1809.7L368.7,1810.1L371.6,1810.4L374.6,1810.8L377.6,1811L380.6,1811.3L383.5,1811.5L386.5,1811.7L389.5,1811.9L392.5,1812L395.5,1812.1L398.5,1812.2L401.5,1812.2L404.5,1812.3L407.5,1812.3L410.5,1812.3L413.5,1812.2L416.5,1812.2L419.5,1812.1L422.5,1812.1L425.5,1812L428.5,1811.9L431.5,1811.8L434.6,1811.6L437.6,1811.5L440.6,1811.4L443.6,1811.2L446.6,1811.1L449.6,1810.9L452.6,1810.8L455.6,1810.6L458.6,1810.5L461.6,1810.3L464.6,1810.2L467.7,1810L470.7,1809.9L473.7,1809.7L476.7,1809.6L479.7,1809.4L482.7,1809.3L485.7,1809.2L488.7,1809L491.7,1808.9L494.7,1808.7L497.7,1808.6L500.7,1808.4L503.7,1808.3L506.7,1808.1L509.7,1808L512.7,1807.8L515.7,1807.7L518.7,1807.5L521.7,1807.4L524.7,1807.2L527.7,1807.1L530.7,1806.9L533.7,1806.8L536.7,1806.7L539.7,1806.5L542.7,1806.4L545.6,1806.2L548.6,1806.1L551.6,1805.9L554.6,1805.8L557.6,1805.6L560.6,1805.5L563.6,1805.4L566.6,1805.2L569.6,1805.1L572.6,1804.9L575.6,1804.8L578.6,1804.7L581.6,1804.5L584.6,1804.4L587.6,1804.3L590.6,1804.1L593.6,1804L596.6,1803.8L599.6,1803.7L602.6,1803.6L605.6,1803.4L608.6,1803.3L611.6,1803.2L614.6,1803.1L617.6,1802.9L620.6,1802.8L623.6,1802.7L626.6,1802.5L629.6,1802.4L632.6,1802.3L635.6,1802.2L638.6,1802L641.6,1801.9L644.6,1801.8L647.6,1801.7L650.6,1801.5L653.6,1801.4L656.6,1801.3L659.7,1801.2L662.7,1801.1L665.7,1801L668.7,1800.8L671.7,1800.7L674.7,1800.6L677.7,1800.5L680.7,1800.4L683.8,1800.3L686.8,1800.2L689.8,1800L692.8,1799.9L695.8,1799.8L698.8,1799.7L701.8,1799.5L704.9,1799.4L707.9,1799.2L710.9,1799.1L713.9,1798.9L716.9,1798.7L719.9,1798.6L722.9,1798.4L725.9,1798.2L728.9,1798L731.9,1797.7L734.9,1797.5L737.9,1797.3L740.9,1797L743.9,1796.7L746.9,1796.4L749.9,1796.1L752.8,1795.8L755.8,1795.5L758.8,1795.1L761.8,1794.8L764.7,1794.4L767.7,1794L770.7,1793.6L773.6,1793.1L776.6,1792.7L779.5,1792.2L782.5,1791.7L785.4,1791.1L788.4,1790.6L791.3,1790L794.2,1789.4L797.2,1788.8L800.1,1788.2L803,1787.5L805.9,1786.8L808.8,1786.1L811.7,1785.3L814.6,1784.5L817.5,1783.7L820.4,1782.9L823.3,1782L826.1,1781.1L829,1780.2L831.8,1779.2L834.7,1778.2L837.5,1777.2L840.4,1776.2L843.2,1775.1L846,1774L848.8,1772.8L851.6,1771.7L854.3,1770.5L857.1,1769.3L859.8,1768.1L862.5,1766.8L865.2,1765.6L867.8,1764.3L870.4,1762.9L873,1761.6L875.6,1760.2L878.2,1758.7L880.8,1757.2L883.4,1755.6L885.9,1754L888.5,1752.4L891,1750.8L893.6,1749.1L896.1,1747.5L898.7,1745.8L901.2,1744.2L903.8,1742.5L906.4,1740.9L909,1739.3L911.5,1737.8L914.2,1736.3L916.8,1734.8L919.4,1733.3L922.1,1731.9L924.7,1730.6L927.4,1729.3L930.1,1728L932.9,1726.8L935.6,1725.6L938.3,1724.4L941.1,1723.3L943.9,1722.2L946.6,1721.2L949.4,1720.1L952.3,1719.1L955.1,1718.2L957.9,1717.3L960.7,1716.4L963.6,1715.5L966.5,1714.7L969.3,1713.8L972.2,1713.1L975.1,1712.3L978,1711.5L980.9,1710.8L983.8,1710.1L986.7,1709.4L989.7,1708.8L992.6,1708.1L995.5,1707.5L998.5,1706.9L1001.4,1706.3L1004.4,1705.8L1007.4,1705.2L1010.3,1704.6L1013.3,1704.1L1016.3,1703.6L1019.3,1703.1L1022.2,1702.5L1025.2,1702L1028.2,1701.5L1031.2,1701.1L1034.2,1700.6L1037.2,1700.1L1040.2,1699.6L1043.2,1699.1L1046.1,1698.7L1049.1,1698.2L1052.1,1697.7L1055.1,1697.2L1058.1,1696.8L1061.1,1696.3L1064.1,1695.8L1067,1695.3L1070,1694.8L1073,1694.3L1076,1693.8L1078.9,1693.2L1081.9,1692.7L1084.9,1692.2L1087.8,1691.7L1090.8,1691.1L1093.7,1690.6L1096.7,1690L1099.7,1689.5L1102.6,1688.9L1105.6,1688.4L1108.5,1687.8L1111.5,1687.2L1114.4,1686.7L1117.3,1686.1L1120.3,1685.5L1123.2,1684.9L1126.2,1684.4L1129.1,1683.8L1132.1,1683.2L1135,1682.6L1137.9,1682L1140.9,1681.4L1143.8,1680.8L1146.7,1680.2L1149.7,1679.6L1152.6,1679L1155.5,1678.4L1158.5,1677.8L1161.4,1677.2L1164.3,1676.6L1167.3,1676L1170.2,1675.4L1173.1,1674.8L1176.1,1674.2L1179,1673.6L1181.9,1672.9L1184.9,1672.3L1187.8,1671.7L1190.8,1671.1L1193.7,1670.5L1196.6,1669.9L1199.6,1669.3L1202.5,1668.7L1205.4,1668.1L1208.4,1667.5L1211.3,1666.9L1214.3,1666.3L1217.2,1665.7L1220.2,1665.1L1223.1,1664.5L1226.1,1663.9L1229,1663.3L1232,1662.7L1234.9,1662.1L1237.9,1661.6L1240.8,1661L1243.8,1660.4L1246.7,1659.8L1249.7,1659.2L1252.6,1658.6L1255.6,1658L1258.5,1657.4L1261.5,1656.7L1264.4,1656.1L1267.3,1655.5L1270.3,1654.9L1273.2,1654.2L1276.2,1653.6L1279.1,1652.9L1282,1652.2L1285,1651.6L1287.9,1650.9L1290.8,1650.2L1293.7,1649.5L1296.7,1648.8L1299.6,1648L1302.5,1647.3L1305.4,1646.6L1308.3,1645.8L1311.2,1645L1314.1,1644.2L1317,1643.4L1319.9,1642.6L1322.8,1641.7L1325.6,1640.9L1328.5,1640L1331.4,1639.1L1334.2,1638.2L1337.1,1637.3L1339.9,1636.3L1342.8,1635.4L1345.6,1634.4L1348.5,1633.4L1351.3,1632.4L1354.1,1631.4L1356.9,1630.4L1359.8,1629.3L1362.6,1628.3L1365.4,1627.3L1368.2,1626.2L1371,1625.1L1373.8,1624.1L1376.6,1623L1379.5,1621.9L1382.3,1620.9L1385.1,1619.8L1387.9,1618.7L1390.7,1617.6L1393.5,1616.6L1396.3,1615.5L1399.1,1614.4L1401.9,1613.4L1404.7,1612.3L1407.6,1611.3L1410.4,1610.2L1413.2,1609.2L1416,1608.2L1418.9,1607.2L1421.7,1606.2L1424.5,1605.2L1427.4,1604.2L1430.2,1603.2L1433,1602.3L1435.9,1601.3L1438.7,1600.4L1441.6,1599.4L1444.5,1598.5L1447.3,1597.6L1450.2,1596.7L1453,1595.8L1455.9,1594.9L1458.8,1594L1461.6,1593.1L1464.5,1592.3L1467.4,1591.4L1470.3,1590.5L1473.1,1589.7L1476,1588.8L1478.9,1587.9L1481.8,1587.1L1484.6,1586.2L1487.5,1585.4L1490.4,1584.5L1493.3,1583.7L1496.2,1582.8L1499,1582L1501.9,1581.1L1504.8,1580.3L1507.7,1579.4L1510.6,1578.6L1513.5,1577.7L1516.3,1576.9L1519.2,1576L1522.1,1575.1L1525,1574.3L1527.8,1573.4L1530.7,1572.5L1533.6,1571.6L1536.4,1570.7L1539.3,1569.8L1542.2,1568.8L1545,1567.9L1547.9,1566.9L1550.7,1565.9L1553.5,1564.9L1556.3,1563.9L1559.2,1562.9L1562,1561.8L1564.8,1560.8L1567.6,1559.7L1570.4,1558.5L1573.1,1557.4L1575.9,1556.2L1578.7,1555L1581.4,1553.8L1584.1,1552.5L1586.8,1551.2L1589.6,1549.9L1592.3,1548.5L1594.9,1547.1L1597.6,1545.7L1600.3,1544.2L1602.9,1542.7L1605.5,1541.2L1608.2,1539.6L1610.8,1538.1L1613.4,1536.5L1616,1534.9L1618.6,1533.4L1621.2,1531.8L1623.9,1530.3L1626.5,1528.8L1629.1,1527.3L1631.8,1525.8L1634.4,1524.4L1637.1,1523.1L1639.8,1521.8L1642.5,1520.5L1645.2,1519.4L1647.9,1518.3L1650.7,1517.2L1653.5,1516.3L1656.3,1515.4L1659.1,1514.7L1662,1514L1664.9,1513.4L1667.8,1512.9L1670.7,1512.4L1673.7,1511.9L1676.6,1511.4L1679.6,1510.9L1682.5,1510.4L1685.5,1509.8L1688.4,1509.2L1691.3,1508.5L1694.2,1507.7L1697,1506.8L1699.9,1505.8L1702.6,1504.7L1705.4,1503.5L1708.1,1502.2L1710.8,1501L1713.6,1499.8L1716.3,1498.7L1719.2,1497.8L1722,1497L1724.8,1496.4L1727.7,1495.9L1730.6,1495.5L1733.5,1495.3L1736.4,1495.2L1739.3,1495.3L1742.2,1495.4L1745.2,1495.7L1748.1,1496.1L1751,1496.6L1754,1497.2L1756.9,1497.8L1759.9,1498.6L1762.8,1499.4L1765.8,1500.3L1768.7,1501.2L1771.7,1502.1L1774.6,1503.1L1777.6,1504.1L1780.5,1505.2L1783.5,1506.2L1786.4,1507.3L1789.4,1508.4L1792.3,1509.4L1795.2,1510.4L1798.1,1511.4L1801,1512.4L1803.9,1513.3L1806.8,1514.2L1809.7,1515.1L1812.6,1515.9L1815.5,1516.7L1818.4,1517.5L1821.2,1518.2L1824.1,1518.9L1827,1519.6L1829.9,1520.3L1832.7,1520.9L1835.6,1521.6L1838.5,1522.2L1841.4,1522.8L1844.3,1523.4L1847.2,1524L1850.1,1524.6L1853,1525.1L1855.9,1525.7L1858.9,1526.3L1861.8,1526.9L1864.7,1527.4L1867.6,1528L1870.6,1528.6L1873.5,1529.2L1876.5,1529.8L1879.4,1530.4L1882.3,1531L1885.3,1531.7L1888.2,1532.3L1891.1,1533L1894.1,1533.7L1897,1534.4L1899.9,1535.1L1902.9,1535.9L1905.8,1536.7L1908.7,1537.5L1911.6,1538.3L1914.5,1539.1L1917.4,1540L1920.3,1540.9L1923.2,1541.8L1926,1542.7L1928.9,1543.6L1931.8,1544.6L1934.6,1545.5L1937.5,1546.5L1940.3,1547.5L1943.2,1548.5L1946,1549.6L1948.8,1550.6L1951.6,1551.7L1954.4,1552.8L1957.2,1553.9L1960,1555.1L1962.8,1556.2L1965.6,1557.4L1968.3,1558.5L1971.1,1559.7L1973.8,1560.9L1976.5,1562.2L1979.3,1563.4L1982,1564.6L1984.7,1565.9L1987.4,1567.2L1990,1568.5L1992.7,1569.8L1995.4,1571.1L1998,1572.4L2000.7,1573.7L2003.4,1574.9L2006.1,1576.1L2008.9,1577.3L2011.6,1578.5L2014.4,1579.6L2017.3,1580.6L2020.2,1581.6L2023.1,1582.5L2026,1583.5L2028.9,1584.4L2031.8,1585.3L2034.8,1586.2L2037.7,1587.1L2040.6,1588.1L2043.5,1589.1L2046.3,1590.1L2049.1,1591.2L2051.9,1592.4L2054.6,1593.7L2057.3,1595L2059.9,1596.4L2062.4,1597.9L2064.9,1599.5L2067.4,1601.1L2069.9,1602.7L2072.3,1604.4L2074.7,1606.2L2077,1608L2079.4,1609.8L2081.7,1611.7L2084,1613.6L2086.2,1615.6L2088.5,1617.5L2090.7,1619.5L2093,1621.5L2095.2,1623.5L2097.5,1625.5L2099.7,1627.5L2102,1629.5L2104.2,1631.5L2106.5,1633.5L2108.8,1635.5L2111.1,1637.5L2113.4,1639.4L2115.7,1641.3L2118.1,1643.2L2120.5,1645L2122.9,1646.8L2125.4,1648.6L2127.9,1650.3L2130.4,1652L2133,1653.6L2135.6,1655.1L2138.2,1656.7L2140.9,1658.1L2143.6,1659.5L2146.3,1660.9L2149,1662.1L2151.8,1663.4L2154.6,1664.6L2157.4,1665.7L2160.2,1666.7L2163,1667.7L2165.9,1668.6L2168.7,1669.5L2171.6,1670.3L2174.5,1671.1L2177.4,1671.7L2180.2,1672.3L2183.1,1672.9L2186,1673.4L2189,1673.8L2191.9,1674.2L2194.8,1674.5L2197.7,1674.7L2200.7,1675L2203.6,1675.1L2206.6,1675.3L2209.6,1675.4L2212.5,1675.4L2215.5,1675.5L2218.5,1675.5L2221.6,1675.4L2224.6,1675.4L2227.7,1675.3L2230.7,1675.2L2233.8,1675.1L2236.9,1675L2240,1674.9L2243.2,1674.8L2246.3,1674.6L2249.5,1674.5L2252.7,1674.3L2255.8,1674.2L2259,1673.9L2262.1,1673.6L2265.2,1673.3L2268.3,1672.9L2271.3,1672.4L2274.2,1671.8L2277.1,1671L2279.9,1670.2L2282.6,1669.2L2285.2,1668.1L2287.7,1666.9L2290,1665.4L2292.3,1663.8L2294.4,1662L2296.4,1660.1L2298.2,1657.9L2300,1655.7L2301.7,1653.2L2303.2,1650.7L2304.7,1648.1L2306.2,1645.4L2307.6,1642.7L2309,1639.9L2310.4,1637L2311.8,1634.2L2313.2,1631.4L2314.6,1628.6L2316,1625.8L2317.5,1623.1L2319,1620.5L2320.6,1617.9L2322.3,1615.3L2324,1612.9L2325.7,1610.5L2327.6,1608.2L2329.5,1606L2331.5,1603.9L2333.6,1601.9L2335.8,1600L2338.1,1598.2L2340.4,1596.5L2342.9,1595L2345.5,1593.6L2348.1,1592.2L2350.8,1591L2353.6,1589.8L2356.4,1588.6L2359.3,1587.6L2362.2,1586.5L2365.1,1585.5L2368,1584.5L2371,1583.6L2373.9,1582.6L2376.9,1581.6L2379.8,1580.5L2382.7,1579.5L2385.5,1578.4L2388.3,1577.2L2391.1,1576L2393.8,1574.7L2396.4,1573.3L2399,1571.8L2401.5,1570.3L2404.1,1568.8L2406.6,1567.3L2409.1,1565.8L2411.7,1564.4L2414.4,1563L2417.1,1561.8L2420,1560.7L2422.9,1559.7L2426,1558.9"/>
<path stroke="#1f701f" d="M293.3,972L295.2,974.5L297.1,977L298.9,979.4L300.8,981.8L302.6,984.2L304.5,986.6L306.3,989L308.2,991.4L310,993.7L311.9,996.1L313.7,998.4L315.6,1000.7L317.4,1003L319.3,1005.3L321.2,1007.6L323,1009.8L324.9,1012.1L326.8,1014.3L328.7,1016.6L330.7,1018.8L332.6,1021L334.6,1023.3L336.6,1025.5L338.6,1027.7L340.6,1029.9L342.6,1032.1L344.7,1034.3L346.8,1036.5L348.9,1038.7L351.1,1040.9L353.3,1043.1L355.5,1045.3L357.7,1047.5L360,1049.7L362.3,1051.9L364.6,1054L367,1056L369.4,1057.9L371.9,1059.8L374.4,1061.4L376.9,1062.9L379.5,1064.2L382.1,1065.2L384.8,1066L387.6,1066.5L390.4,1066.7L393.3,1066.7L396.1,1066.3L399,1065.7L401.9,1064.9L404.7,1063.9L407.5,1062.7L410.2,1061.5L412.8,1060.1L415.4,1058.6L418,1057L420.4,1055.3L422.9,1053.6L425.3,1051.8L427.6,1049.9L430,1047.9L432.3,1045.9L434.6,1043.9L436.8,1041.8L439.1,1039.7L441.3,1037.6L443.6,1035.5L445.8,1033.4L448.1,1031.3L450.3,1029.2L452.6,1027.2L454.9,1025.2L457.2,1023.2L459.6,1021.3L462,1019.4L464.4,1017.6L466.8,1015.9L469.3,1014.2L471.8,1012.5L474.3,1010.9L476.8,1009.3L479.4,1007.8L482,1006.3L484.6,1004.8L487.2,1003.4L489.8,1001.9L492.4,1000.5L495.1,999.2L497.7,997.8L500.4,996.4L503.1,995.1L505.7,993.7L508.4,992.4L511.1,991L513.8,989.7L516.5,988.4L519.2,987.1L521.9,985.7L524.6,984.4L527.3,983.1L530,981.8L532.7,980.5L535.4,979.2L538.2,977.9L540.9,976.6L543.6,975.3L546.3,974L549,972.7L551.7,971.5L554.5,970.2L557.2,968.9L559.9,967.5L562.6,966.2L565.3,964.9L568,963.6L570.7,962.3L573.4,961L576.1,959.6L578.8,958.3L581.5,956.9L584.2,955.6L586.9,954.2L589.5,952.9L592.2,951.5L594.9,950.1L597.6,948.8L600.2,947.4L602.9,946L605.6,944.6L608.2,943.3L610.9,941.9L613.6,940.5L616.2,939.1L618.9,937.8L621.6,936.4L624.2,935L626.9,933.7L629.6,932.3L632.3,931L634.9,929.6L637.6,928.3L640.3,927L643,925.6L645.7,924.3L648.4,923L651.1,921.7L653.8,920.4L656.5,919.2L659.3,917.9L662,916.6L664.7,915.4L667.5,914.2L670.2,912.9L673,911.7L675.7,910.5L678.5,909.3L681.3,908.2L684,907L686.8,905.8L689.6,904.7L692.4,903.5L695.2,902.3L697.9,901.2L700.7,900.1L703.5,898.9L706.3,897.8L709.1,896.7L711.9,895.5L714.7,894.4L717.4,893.3L720.2,892.2L723,891L725.8,889.9L728.6,888.8L731.4,887.6L734.1,886.5L736.9,885.4L739.7,884.2L742.4,883L745.2,881.9L747.9,880.7L750.7,879.5L753.4,878.3L756.1,877L758.8,875.8L761.5,874.5L764.2,873.2L766.9,871.9L769.6,870.5L772.2,869.1L774.9,867.7L777.5,866.2L780.1,864.7L782.7,863.2L785.3,861.6L787.9,860.1L790.5,858.5L793.1,856.9L795.7,855.4L798.3,853.8L800.9,852.3L803.5,850.8L806.2,849.4L808.8,848L811.5,846.7L814.3,845.5L817,844.3L819.8,843.2L822.6,842.2L825.4,841.2L828.3,840.3L831.2,839.5L834.1,838.7L837,837.9L839.9,837.2L842.8,836.5L845.7,835.8L848.7,835.1L851.6,834.4L854.6,833.8L857.5,833.1L860.4,832.4L863.3,831.7L866.3,831L869.2,830.3L872.1,829.6L875,828.9L877.9,828.2L880.9,827.5L883.8,826.8L886.7,826.2L889.6,825.5L892.5,824.8L895.4,824.1L898.3,823.4L901.2,822.7L904.2,822L907.1,821.3L910,820.6L912.9,820L915.8,819.3L918.7,818.6L921.7,818L924.6,817.3L927.5,816.7L930.5,816L933.4,815.4L936.3,814.8L939.3,814.1L942.2,813.5L945.1,812.9L948.1,812.3L951,811.7L954,811.1L956.9,810.5L959.9,809.9L962.9,809.4L965.8,808.8L968.8,808.2L971.7,807.6L974.7,807.1L977.7,806.5L980.6,805.9L983.6,805.3L986.5,804.8L989.5,804.2L992.5,803.6L995.4,803.1L998.4,802.5L1001.4,801.9L1004.3,801.3L1007.3,800.8L1010.3,800.2L1013.2,799.6L1016.2,799L1019.1,798.5L1022.1,797.9L1025.1,797.3L1028,796.7L1031,796.1L1033.9,795.5L1036.9,794.9L1039.8,794.3L1042.8,793.6L1045.7,793L1048.7,792.4L1051.6,791.7L1054.6,791.1L1057.5,790.4L1060.4,789.8L1063.4,789.1L1066.3,788.4L1069.2,787.7L1072.1,787.1L1075.1,786.3L1078,785.6L1080.9,784.9L1083.8,784.2L1086.7,783.4L1089.6,782.7L1092.5,781.9L1095.4,781.1L1098.3,780.3L1101.2,779.5L1104,778.7L1106.9,777.9L1109.8,777.1L1112.6,776.2L1115.5,775.3L1118.4,774.4L1121.2,773.5L1124.1,772.6L1126.9,771.7L1129.7,770.8L1132.5,769.8L1135.4,768.8L1138.2,767.8L1141,766.8L1143.8,765.8L1146.6,764.8L1149.4,763.7L1152.2,762.6L1154.9,761.5L1157.7,760.4L1160.5,759.3L1163.2,758.2L1166,757L1168.8,755.9L1171.5,754.7L1174.3,753.5L1177.1,752.3L1179.8,751.1L1182.6,749.9L1185.3,748.7L1188.1,747.5L1190.8,746.3L1193.6,745.1L1196.4,743.8L1199.2,742.6L1201.9,741.3L1204.7,740.1L1207.5,738.9L1210.3,737.6L1213.1,736.4L1215.8,735.1L1218.6,733.8L1221.4,732.5L1224.2,731.2L1226.9,729.9L1229.7,728.6L1232.4,727.2L1235.1,725.8L1237.8,724.4L1240.4,723L1243.1,721.5L1245.7,720L1248.2,718.4L1250.8,716.8L1253.3,715.1L1255.7,713.5L1258.1,711.7L1260.5,709.9L1262.9,708.1L1265.2,706.2L1267.4,704.3L1269.7,702.4L1271.9,700.4L1274.1,698.4L1276.3,696.4L1278.4,694.3L1280.5,692.2L1282.6,690.1L1284.7,687.9L1286.7,685.7L1288.7,683.5L1290.7,681.3L1292.7,679.1L1294.7,676.8L1296.7,674.5L1298.6,672.2L1300.5,669.9L1302.5,667.6L1304.4,665.3L1306.3,662.9L1308.2,660.6L1310.1,658.2L1312,655.8L1313.9,653.5L1315.7,651.1L1317.6,648.7L1319.5,646.4L1321.4,644L1323.3,641.6L1325.2,639.3L1327.1,636.9L1329,634.6L1330.9,632.2L1332.9,629.9L1334.8,627.6L1336.8,625.3L1338.7,623L1340.7,620.7L1342.7,618.4L1344.7,616.2L1346.7,613.9L1348.7,611.7L1350.7,609.5L1352.8,607.2L1354.8,605L1356.8,602.8L1358.9,600.6L1360.9,598.4L1363,596.3L1365.1,594.1L1367.2,591.9L1369.2,589.8L1371.3,587.6L1373.4,585.4L1375.5,583.3L1377.6,581.2L1379.7,579L1381.8,576.9L1383.9,574.8L1386.1,572.6L1388.2,570.5L1390.3,568.4L1392.4,566.3L1394.6,564.2L1396.7,562.1L1398.8,559.9L1400.9,557.8L1403.1,555.7L1405.2,553.6L1407.3,551.5L1409.5,549.4L1411.6,547.3L1413.7,545.2L1415.9,543.1L1418,541L1420.1,538.9L1422.3,536.8L1424.4,534.6L1426.5,532.5L1428.6,530.4L1430.7,528.3L1432.9,526.1L1435,524L1437.1,521.9L1439.2,519.7L1441.3,517.6L1443.4,515.4L1445.5,513.3L1447.5,511.1L1449.6,508.9L1451.7,506.8L1453.7,504.6L1455.8,502.4L1457.9,500.2L1459.9,498L1461.9,495.8L1464,493.6L1466,491.3L1468,489.1L1470,486.8L1472,484.6L1474,482.3L1475.9,480L1477.9,477.7L1479.8,475.4L1481.8,473.1L1483.7,470.8L1485.6,468.5L1487.5,466.2L1489.3,463.8L1491.2,461.4L1493,459.1L1494.8,456.7L1496.6,454.3L1498.4,451.9L1500.2,449.4L1501.9,447L1503.6,444.6L1505.3,442.1L1507,439.6L1508.7,437.1L1510.3,434.6L1511.9,432.1L1513.5,429.6L1515.1,427L1516.6,424.5L1518.1,421.9L1519.6,419.3L1521.1,416.7L1522.5,414.1L1523.9,411.5L1525.3,408.8L1526.7,406.2L1528,403.5L1529.3,400.8L1530.6,398.1L1531.9,395.4L1533.2,392.7L1534.4,390L1535.7,387.3L1536.9,384.5L1538.1,381.8L1539.3,379L1540.4,376.3L1541.6,373.5L1542.7,370.7L1543.9,367.9L1545,365.1L1546.1,362.3L1547.2,359.5L1548.3,356.7L1549.3,353.9L1550.4,351L1551.5,348.2L1552.5,345.4L1553.5,342.5L1554.6,339.7L1555.6,336.8L1556.6,334L1557.7,331.1L1558.7,328.3L1559.7,325.4L1560.7,322.6L1561.7,319.7L1562.7,316.9L1563.7,314L1564.7,311.2L1565.7,308.3L1566.7,305.4L1567.8,302.6L1568.8,299.7L1569.8,296.9L1570.8,294L1571.8,291.2L1572.9,288.4L1573.9,285.5L1574.9,282.7L1576,279.9L1577,277L1578.1,274.2L1579.1,271.4L1580.2,268.6L1581.3,265.7L1582.3,262.9L1583.4,260.1L1584.5,257.3L1585.6,254.5L1586.7,251.7L1587.8,248.9L1588.9,246.1L1590,243.3L1591.1,240.5L1592.2,237.7L1593.4,235L1594.5,232.2L1595.7,229.4L1596.8,226.6L1598,223.9L1599.1,221.1L1600.3,218.4L1601.5,215.6L1602.7,212.9L1603.9,210.1L1605.1,207.4L1606.3,204.6L1607.5,201.9L1608.7,199.2L1610,196.4L1611.2,193.7L1612.5,191L1613.7,188.3L1615,185.6L1616.3,182.9L1617.6,180.2L1618.9,177.5L1620.2,174.8L1621.5,172.1L1622.8,169.5L1624.2,166.8L1625.5,164.1L1626.9,161.5L1628.3,158.8L1629.6,156.1L1631,153.5L1632.4,150.9L1633.8,148.2L1635.3,145.6L1636.7,143L1638.2,140.4L1639.6,137.8L1641.1,135.2L1642.6,132.6L1644.2,130L1645.7,127.5L1647.3,124.9L1648.9,122.4L1650.5,119.9L1652.2,117.4L1653.9,114.9L1655.6,112.5L1657.4,110L1659.2,107.6L1661,105.3L1662.9,102.9L1664.8,100.6L1666.7,98.2L1668.7,95.9L1670.7,93.6L1672.6,91.3L1674.6,88.9L1676.5,86.5L1678.4,84.1L1680.3,81.7L1682.3,79.4L1684.3,77.3L1686.5,75.3L1688.7,73.6L1691.1,72L1693.6,70.8L1696.3,69.8L1699.1,69.1L1701.9,68.7L1704.8,68.5L1707.7,68.6L1710.7,68.9L1713.5,69.5L1716.4,70.4L1719.1,71.4L1721.8,72.7L1724.4,74.2L1726.9,75.9L1729.3,77.7L1731.7,79.6L1734.1,81.7L1736.4,83.8L1738.7,85.9L1741,88.1L1743.3,90.2L1745.5,92.3L1747.7,94.5L1750,96.6L1752.2,98.7L1754.4,100.8L1756.6,102.9L1758.8,105L1760.9,107.1L1763.1,109.2L1765.2,111.3L1767.3,113.5L1769.4,115.6L1771.5,117.7L1773.6,119.9L1775.6,122.1L1777.6,124.3L1779.6,126.5L1781.6,128.7L1783.5,130.9L1785.5,133.2L1787.4,135.5L1789.3,137.8L1791.2,140.1L1793,142.4L1794.8,144.8L1796.7,147.2L1798.5,149.5L1800.3,151.9L1802,154.3L1803.8,156.8L1805.6,159.2L1807.3,161.6L1809.1,164.1L1810.8,166.6L1812.5,169L1814.2,171.5L1815.9,174L1817.6,176.5L1819.3,179L1821,181.5L1822.7,184L1824.4,186.5L1826.1,189L1827.8,191.5L1829.4,194L1831.1,196.5L1832.8,199L1834.5,201.5L1836.2,204L1837.9,206.4L1839.7,208.9L1841.4,211.4L1843.1,213.9L1844.8,216.3L1846.6,218.8L1848.3,221.3L1850.1,223.7L1851.9,226.1L1853.7,228.5L1855.5,230.9L1857.3,233.3L1859.2,235.7L1861,238.1L1862.9,240.4L1864.8,242.8L1866.7,245.1L1868.7,247.4L1870.6,249.6L1872.6,251.9L1874.6,254.1L1876.6,256.4L1878.7,258.6L1880.8,260.7L1882.9,262.9L1885,265L1887.2,267.1L1889.3,269.2L1891.6,271.2L1893.8,273.3L1896.1,275.2L1898.4,277.2L1900.8,279.1L1903.1,281L1905.5,282.9L1908,284.7L1910.4,286.4L1912.9,288.1L1915.4,289.8L1918,291.4L1920.6,293L1923.2,294.5L1925.8,295.9L1928.4,297.3L1931.1,298.6L1933.8,299.8L1936.6,301L1939.3,302.1L1942.1,303.1L1944.9,304L1947.7,304.9L1950.6,305.7L1953.5,306.4L1956.4,307L1959.3,307.6L1962.2,308L1965.2,308.4L1968.1,308.8L1971.1,309.1L1974.1,309.3L1977.1,309.4L1980.1,309.5L1983.1,309.6L1986.1,309.5L1989.2,309.5L1992.2,309.4L1995.3,309.2L1998.3,309L2001.3,308.8L2004.4,308.5L2007.4,308.2L2010.5,307.8L2013.5,307.5L2016.5,307.1L2019.5,306.6L2022.5,306.2L2025.5,305.7L2028.5,305.2L2031.5,304.7L2034.5,304.2L2037.4,303.6L2040.4,303.1L2043.3,302.5L2046.3,301.9L2049.2,301.3L2052.1,300.7L2055,300L2058,299.4L2060.9,298.7L2063.8,298.1L2066.7,297.4L2069.6,296.7L2072.5,296L2075.4,295.4L2078.3,294.7L2081.2,294L2084.1,293.3L2087,292.6L2089.9,291.9L2092.8,291.2L2095.7,290.5L2098.6,289.8L2101.5,289.1L2104.4,288.4L2107.3,287.7L2110.3,287L2113.2,286.4L2116.1,285.7L2119,285.1L2122,284.4L2124.9,283.8L2127.9,283.2L2130.8,282.6L2133.8,282L2136.8,281.4L2139.7,280.9L2142.7,280.3L2145.7,279.8L2148.7,279.3L2151.7,278.9L2154.6,278.5L2157.6,278.1L2160.6,277.7L2163.6,277.4L2166.6,277.1L2169.6,276.9L2172.6,276.6L2175.6,276.5L2178.7,276.3L2181.7,276.3L2184.7,276.2L2187.7,276.3L2190.7,276.3L2193.7,276.4L2196.7,276.6L2199.6,276.9L2202.6,277.1L2205.6,277.5L2208.6,277.9L2211.6,278.4L2214.6,278.9L2217.5,279.5L2220.5,280.2L2223.4,280.9L2226.3,281.7L2229.2,282.6L2232.1,283.5L2235,284.5L2237.8,285.6L2240.6,286.7L2243.4,287.9L2246.1,289.1L2248.9,290.4L2251.5,291.8L2254.2,293.2L2256.8,294.7L2259.3,296.3L2261.8,297.9L2264.2,299.6L2266.6,301.4L2269,303.2L2271.3,305.1L2273.5,307L2275.7,309L2277.9,311.1L2280,313.2L2282.1,315.3L2284.1,317.5L2286,319.7L2288,322L2289.9,324.4L2291.7,326.7L2293.5,329.1L2295.3,331.6L2297,334.1L2298.7,336.6L2300.4,339.1L2302,341.7L2303.6,344.3L2305.2,346.9L2306.7,349.5L2308.2,352.2L2309.7,354.9L2311.1,357.6L2312.6,360.3L2313.9,363L2315.3,365.7L2316.6,368.5L2318,371.2L2319.3,374L2320.5,376.7L2321.8,379.5L2323,382.2L2324.2,385L2325.4,387.7L2326.6,390.5L2327.8,393.2L2328.9,396L2330,398.7L2331.2,401.4L2332.3,404.2L2333.4,406.9L2334.5,409.7L2335.5,412.4L2336.6,415.2L2337.7,417.9L2338.7,420.7L2339.7,423.4L2340.8,426.2L2341.8,429L2342.8,431.7L2343.9,434.5L2344.9,437.3L2345.9,440.1L2346.9,442.9L2347.9,445.7L2348.9,448.6L2350,451.4L2351,454.3L2352,457.1L2353,460L2354.1,462.9L2355.1,465.8L2356.2,468.6L2357.2,471.5L2358.3,474.4L2359.4,477.3L2360.5,480.2L2361.7,483.1L2362.8,485.9L2364,488.8L2365.2,491.6L2366.5,494.4L2367.7,497.2L2369,499.9L2370.4,502.7L2371.8,505.3L2373.2,508L2374.6,510.6L2376.1,513.2L2377.7,515.8L2379.3,518.3L2381,520.7L2382.7,523.2L2384.4,525.5L2386.2,527.8L2388.1,530.1L2390,532.2L2392,534.4L2394.1,536.4L2396.2,538.4L2398.4,540.3L2400.7,542.2L2403.1,543.9L2405.5,545.6L2408,547L2410.7,548.3L2413.5,549.3L2416.4,550L2419.5,550.4L2422.8,550.5L2426.2,550.1"/>
<path stroke="#1f701f" stroke-dasharray="28 10" d="M291.6,1212.1L293.1,1214.4L294.9,1216.8L296.8,1219.1L298.9,1221.4L301.1,1223.6L303.5,1225.7L306,1227.7L308.6,1229.6L311.2,1231.3L314,1232.7L316.7,1233.9L319.6,1234.9L322.4,1235.5L325.2,1235.9L328,1235.8L330.8,1235.4L333.5,1234.6L336.1,1233.4L338.7,1231.8L341.2,1230.1L343.8,1228.3L346.4,1226.6L349,1225.1L351.6,1223.9L354.4,1223.2L357.2,1222.9L360.1,1222.8L363,1223L365.9,1223.4L368.8,1223.9L371.7,1224.5L374.6,1225.2L377.5,1226L380.4,1226.8L383.3,1227.7L386.2,1228.7L389.1,1229.6L392,1230.6L394.9,1231.6L397.9,1232.5L400.8,1233.4L403.7,1234.3L406.7,1235.1L409.6,1235.8L412.5,1236.4L415.5,1236.9L418.5,1237.4L421.4,1237.7L424.4,1238L427.4,1238.1L430.4,1238.3L433.4,1238.3L436.4,1238.3L439.4,1238.3L442.4,1238.2L445.4,1238.1L448.4,1237.9L451.4,1237.7L454.4,1237.5L457.4,1237.3L460.4,1237.1L463.4,1236.9L466.4,1236.6L469.4,1236.4L472.4,1236.2L475.4,1236L478.4,1235.7L481.4,1235.5L484.4,1235.3L487.4,1235L490.4,1234.8L493.4,1234.6L496.4,1234.3L499.4,1234.1L502.4,1233.9L505.4,1233.6L508.4,1233.4L511.4,1233.2L514.4,1232.9L517.4,1232.7L520.4,1232.5L523.4,1232.2L526.4,1232L529.4,1231.7L532.4,1231.5L535.4,1231.2L538.4,1231L541.4,1230.7L544.3,1230.5L547.3,1230.2L550.3,1230L553.3,1229.7L556.3,1229.5L559.3,1229.2L562.3,1229L565.3,1228.7L568.3,1228.5L571.3,1228.2L574.2,1227.9L577.2,1227.7L580.2,1227.4L583.2,1227.1L586.2,1226.9L589.2,1226.6L592.2,1226.3L595.2,1226.1L598.2,1225.8L601.2,1225.5L604.1,1225.2L607.1,1225L610.1,1224.7L613.1,1224.4L616.1,1224.1L619.1,1223.8L622.1,1223.5L625.1,1223.2L628.1,1223L631.1,1222.7L634.1,1222.4L637,1222.1L640,1221.8L643,1221.5L646,1221.2L649,1220.9L652,1220.6L655,1220.3L658,1219.9L661,1219.6L664,1219.3L667,1219L670,1218.7L673,1218.4L676,1218L679,1217.7L682,1217.4L685,1217L688,1216.7L691,1216.3L694,1216L697,1215.6L700,1215.2L703,1214.9L706,1214.5L709,1214.1L712,1213.6L714.9,1213.2L717.9,1212.8L720.9,1212.3L723.9,1211.9L726.8,1211.4L729.8,1210.9L732.8,1210.4L735.7,1209.9L738.7,1209.4L741.6,1208.8L744.6,1208.3L747.5,1207.7L750.5,1207.1L753.4,1206.5L756.3,1205.8L759.2,1205.2L762.2,1204.5L765.1,1203.8L768,1203.1L770.9,1202.4L773.8,1201.6L776.6,1200.8L779.5,1200L782.4,1199.2L785.3,1198.4L788.1,1197.5L791,1196.6L793.8,1195.7L796.7,1194.8L799.5,1193.9L802.3,1192.9L805.2,1191.9L808,1191L810.8,1190L813.7,1189L816.5,1187.9L819.3,1186.9L822.1,1185.9L824.9,1184.8L827.7,1183.8L830.6,1182.7L833.4,1181.6L836.2,1180.5L839,1179.4L841.8,1178.3L844.6,1177.2L847.4,1176.1L850.2,1175L853,1173.9L855.8,1172.8L858.6,1171.6L861.5,1170.5L864.3,1169.4L867.1,1168.3L869.9,1167.2L872.7,1166.1L875.5,1165L878.4,1164L881.2,1162.9L884,1161.9L886.9,1160.8L889.7,1159.8L892.5,1158.8L895.4,1157.8L898.2,1156.8L901.1,1155.9L903.9,1154.9L906.8,1154L909.7,1153.1L912.5,1152.3L915.4,1151.4L918.3,1150.6L921.2,1149.8L924.1,1149L927,1148.3L929.9,1147.6L932.8,1146.9L935.7,1146.3L938.7,1145.7L941.6,1145.1L944.5,1144.6L947.5,1144.1L950.4,1143.6L953.4,1143.2L956.4,1142.8L959.4,1142.4L962.3,1142L965.3,1141.7L968.3,1141.3L971.3,1141L974.3,1140.7L977.3,1140.5L980.3,1140.2L983.3,1140L986.3,1139.7L989.3,1139.5L992.3,1139.3L995.3,1139.1L998.3,1138.9L1001.3,1138.6L1004.4,1138.4L1007.4,1138.2L1010.4,1138L1013.4,1137.8L1016.4,1137.6L1019.4,1137.4L1022.4,1137.1L1025.4,1136.9L1028.4,1136.6L1031.4,1136.3L1034.4,1136L1037.4,1135.7L1040.4,1135.4L1043.4,1135.1L1046.4,1134.7L1049.4,1134.4L1052.3,1134L1055.3,1133.6L1058.3,1133.2L1061.3,1132.8L1064.2,1132.4L1067.2,1132L1070.2,1131.5L1073.1,1131L1076.1,1130.6L1079.1,1130.1L1082,1129.6L1085,1129.1L1087.9,1128.6L1090.9,1128.1L1093.8,1127.6L1096.8,1127L1099.7,1126.5L1102.7,1125.9L1105.6,1125.4L1108.6,1124.8L1111.5,1124.2L1114.5,1123.7L1117.4,1123.1L1120.3,1122.5L1123.3,1121.9L1126.2,1121.3L1129.2,1120.7L1132.1,1120L1135,1119.4L1138,1118.8L1140.9,1118.2L1143.8,1117.5L1146.8,1116.9L1149.7,1116.3L1152.7,1115.6L1155.6,1115L1158.5,1114.3L1161.5,1113.7L1164.4,1113L1167.3,1112.4L1170.3,1111.7L1173.2,1111.1L1176.1,1110.4L1179.1,1109.8L1182,1109.1L1185,1108.4L1187.9,1107.8L1190.8,1107.1L1193.8,1106.5L1196.7,1105.8L1199.6,1105.2L1202.6,1104.5L1205.5,1103.9L1208.5,1103.2L1211.4,1102.6L1214.4,1101.9L1217.3,1101.3L1220.2,1100.6L1223.2,1100L1226.1,1099.3L1229.1,1098.6L1232,1098L1234.9,1097.3L1237.9,1096.6L1240.8,1095.9L1243.7,1095.3L1246.7,1094.6L1249.6,1093.9L1252.5,1093.2L1255.4,1092.4L1258.4,1091.7L1261.3,1091L1264.2,1090.2L1267.1,1089.5L1270,1088.7L1272.9,1088L1275.8,1087.2L1278.7,1086.4L1281.6,1085.6L1284.5,1084.8L1287.4,1083.9L1290.3,1083.1L1293.1,1082.2L1296,1081.4L1298.9,1080.5L1301.7,1079.6L1304.6,1078.7L1307.4,1077.8L1310.3,1076.8L1313.1,1075.9L1316,1074.9L1318.8,1074L1321.7,1073L1324.5,1072L1327.3,1071L1330.1,1070L1333,1069L1335.8,1068L1338.6,1067L1341.4,1065.9L1344.3,1064.9L1347.1,1063.9L1349.9,1062.9L1352.7,1061.8L1355.6,1060.8L1358.4,1059.8L1361.2,1058.8L1364,1057.7L1366.9,1056.7L1369.7,1055.7L1372.5,1054.7L1375.3,1053.7L1378.2,1052.7L1381,1051.7L1383.9,1050.7L1386.7,1049.8L1389.5,1048.8L1392.4,1047.8L1395.3,1046.9L1398.1,1045.9L1401,1045L1403.8,1044.1L1406.7,1043.2L1409.6,1042.3L1412.5,1041.4L1415.4,1040.6L1418.2,1039.7L1421.1,1038.8L1424,1038L1426.9,1037.1L1429.8,1036.3L1432.7,1035.5L1435.6,1034.6L1438.5,1033.8L1441.4,1033L1444.3,1032.2L1447.2,1031.4L1450.1,1030.6L1453,1029.8L1455.9,1029L1458.8,1028.2L1461.8,1027.4L1464.7,1026.7L1467.6,1025.9L1470.5,1025.1L1473.4,1024.3L1476.3,1023.6L1479.2,1022.8L1482.1,1022L1485,1021.2L1487.9,1020.5L1490.8,1019.7L1493.7,1018.9L1496.6,1018.2L1499.5,1017.4L1502.4,1016.6L1505.3,1015.8L1508.2,1015L1511.1,1014.3L1514,1013.5L1516.9,1012.7L1519.8,1011.9L1522.7,1011.1L1525.5,1010.3L1528.4,1009.5L1531.3,1008.7L1534.1,1007.9L1537,1007L1539.9,1006.2L1542.7,1005.4L1545.6,1004.5L1548.4,1003.7L1551.3,1002.8L1554.1,1001.9L1556.9,1001.1L1559.8,1000.2L1562.6,999.3L1565.4,998.3L1568.3,997.4L1571.1,996.5L1573.9,995.5L1576.8,994.6L1579.6,993.6L1582.4,992.6L1585.3,991.6L1588.1,990.6L1590.9,989.5L1593.8,988.5L1596.6,987.4L1599.4,986.3L1602.3,985.2L1605.1,984.1L1608,982.9L1610.8,981.8L1613.6,980.6L1616.5,979.5L1619.3,978.3L1622.2,977.2L1625,976.1L1627.9,975L1630.7,973.9L1633.6,972.8L1636.5,971.8L1639.3,970.8L1642.2,969.9L1645.1,968.9L1647.9,968.1L1650.8,967.3L1653.7,966.5L1656.6,965.8L1659.4,965.2L1662.3,964.6L1665.2,964.1L1668.1,963.7L1671,963.4L1673.9,963.1L1676.8,963L1679.7,962.9L1682.6,962.9L1685.5,963L1688.4,963.3L1691.3,963.6L1694.2,963.9L1697.2,964.4L1700.1,964.9L1703,965.5L1705.9,966.1L1708.9,966.8L1711.8,967.5L1714.7,968.3L1717.7,969L1720.6,969.8L1723.6,970.6L1726.5,971.4L1729.5,972.2L1732.4,973L1735.4,973.8L1738.4,974.5L1741.3,975.2L1744.3,975.9L1747.3,976.6L1750.2,977.2L1753.2,977.8L1756.2,978.4L1759.1,979L1762.1,979.6L1765,980.2L1768,980.8L1770.9,981.4L1773.8,982L1776.8,982.7L1779.6,983.5L1782.5,984.2L1785.4,985L1788.3,985.9L1791.1,986.7L1793.9,987.6L1796.8,988.6L1799.6,989.5L1802.4,990.5L1805.2,991.5L1808,992.6L1810.8,993.6L1813.6,994.7L1816.4,995.8L1819.2,996.9L1821.9,998L1824.7,999.2L1827.5,1000.3L1830.3,1001.5L1833,1002.6L1835.8,1003.8L1838.6,1004.9L1841.4,1006.1L1844.2,1007.2L1847,1008.4L1849.8,1009.5L1852.6,1010.7L1855.4,1011.8L1858.2,1012.9L1861,1014L1863.9,1015.1L1866.7,1016.1L1869.6,1017.2L1872.4,1018.2L1875.3,1019.2L1878.2,1020.2L1881.1,1021.2L1884,1022.2L1886.8,1023.2L1889.6,1024.3L1892.4,1025.4L1895.1,1026.6L1897.7,1027.9L1900.3,1029.3L1902.7,1030.7L1905.1,1032.4L1907.3,1034.1L1909.4,1036.1L1911.4,1038.2L1913.4,1040.3L1915.3,1042.6L1917.1,1044.9L1919,1047.2L1921,1049.5L1922.9,1051.8L1924.9,1054.1L1926.9,1056.3L1928.9,1058.5L1931,1060.7L1933.2,1062.8L1935.5,1064.8L1937.8,1066.7L1940.2,1068.5L1942.7,1070.2L1945.2,1071.8L1947.8,1073.3L1950.5,1074.8L1953.2,1076.2L1955.9,1077.6L1958.6,1078.9L1961.3,1080.2L1964,1081.5L1966.8,1082.7L1969.6,1083.9L1972.3,1085.1L1975.1,1086.3L1977.9,1087.4L1980.7,1088.5L1983.5,1089.6L1986.3,1090.7L1989.1,1091.8L1991.9,1092.8L1994.8,1093.8L1997.6,1094.9L2000.4,1095.9L2003.2,1096.9L2006.1,1097.9L2008.9,1098.8L2011.8,1099.8L2014.6,1100.8L2017.4,1101.8L2020.3,1102.8L2023.1,1103.8L2026,1104.7L2028.8,1105.7L2031.6,1106.7L2034.5,1107.7L2037.3,1108.7L2040.1,1109.8L2042.9,1110.8L2045.7,1111.9L2048.5,1112.9L2051.3,1114L2054.1,1115.1L2056.9,1116.3L2059.7,1117.4L2062.5,1118.5L2065.3,1119.7L2068,1120.8L2070.8,1121.9L2073.6,1123.1L2076.4,1124.2L2079.2,1125.3L2082,1126.4L2084.8,1127.4L2087.6,1128.5L2090.4,1129.5L2093.2,1130.5L2096.1,1131.5L2098.9,1132.4L2101.8,1133.3L2104.7,1134.2L2107.6,1135L2110.5,1135.7L2113.4,1136.4L2116.4,1137.1L2119.3,1137.7L2122.3,1138.3L2125.3,1138.8L2128.2,1139.2L2131.2,1139.7L2134.2,1140L2137.2,1140.3L2140.3,1140.6L2143.3,1140.8L2146.3,1141L2149.3,1141.1L2152.3,1141.1L2155.3,1141.1L2158.3,1141.1L2161.3,1141L2164.3,1140.8L2167.3,1140.6L2170.3,1140.3L2173.3,1140L2176.3,1139.6L2179.2,1139.2L2182.2,1138.7L2185.1,1138.1L2188,1137.5L2190.9,1136.8L2193.8,1136.1L2196.7,1135.3L2199.5,1134.5L2202.4,1133.6L2205.2,1132.7L2208,1131.7L2210.8,1130.8L2213.7,1129.9L2216.5,1129L2219.4,1128.1L2222.2,1127.2L2225.1,1126.5L2228,1125.8L2231,1125.1L2233.9,1124.5L2236.9,1123.9L2239.8,1123.2L2242.8,1122.5L2245.7,1121.7L2248.6,1120.8L2251.4,1119.8L2254.3,1118.6L2257,1117.4L2259.7,1116L2262.4,1114.5L2265,1113L2267.5,1111.3L2270,1109.6L2272.4,1107.8L2274.7,1105.8L2276.9,1103.8L2279.1,1101.8L2281.2,1099.6L2283.1,1097.4L2285,1095.1L2286.7,1092.8L2288.4,1090.4L2290,1087.9L2291.5,1085.4L2292.9,1082.8L2294.3,1080.2L2295.6,1077.5L2296.8,1074.8L2298.1,1072.1L2299.3,1069.3L2300.5,1066.5L2301.7,1063.7L2302.9,1060.9L2304.1,1058L2305.3,1055.1L2306.5,1052.3L2307.8,1049.4L2309,1046.6L2310.3,1043.7L2311.7,1040.9L2313,1038.2L2314.4,1035.5L2315.9,1032.8L2317.4,1030.2L2318.9,1027.6L2320.6,1025.1L2322.3,1022.7L2324,1020.4L2325.9,1018.1L2327.8,1015.9L2329.8,1013.9L2331.9,1011.9L2334.1,1010.1L2336.4,1008.4L2338.8,1006.8L2341.3,1005.3L2343.9,1004L2346.7,1002.8L2349.5,1001.7L2352.5,1000.8L2355.5,999.9L2358.5,999L2361.5,998.1L2364.5,997.2L2367.4,996.2L2370.2,995.1L2372.9,993.9L2375.5,992.5L2378,990.9L2380.2,989.1L2382.3,987.1L2384.2,984.9L2386,982.6L2387.8,980.1L2389.5,977.6L2391.2,975.1L2393,972.6L2394.8,970.1L2396.8,967.8L2398.8,965.5L2401,963.4L2403.3,961.4L2405.6,959.5L2408.1,957.7L2410.6,956L2413.2,954.4L2415.8,952.8L2418.4,951.3L2421,949.7L2423.5,948.2L2426,946.7"/>
<path stroke="#0d0da6" stroke-dasharray="76 9 4 9" d="M277.6,1763.9L279.8,1765.9L282,1768L284,1770.1L286.1,1772.3L288.1,1774.5L290.1,1776.8L292,1779.2L294,1781.5L295.9,1783.8L297.9,1786.2L299.8,1788.5L301.8,1790.8L303.8,1793L305.8,1795.2L307.9,1797.4L310.1,1799.4L312.3,1801.4L314.6,1803.3L317,1805L319.4,1806.7L322,1808.2L324.7,1809.6L327.4,1810.9L330.2,1812.1L333,1813.1L335.9,1814.1L338.8,1815L341.7,1815.8L344.7,1816.6L347.6,1817.3L350.6,1817.9L353.5,1818.4L356.4,1818.9L359.4,1819.4L362.4,1819.8L365.3,1820.1L368.3,1820.4L371.3,1820.6L374.2,1820.8L377.2,1820.9L380.2,1821L383.2,1821.1L386.2,1821.1L389.2,1821.1L392.1,1821.1L395.1,1821L398.1,1820.9L401.1,1820.7L404.1,1820.6L407.1,1820.4L410.2,1820.2L413.2,1820L416.2,1819.7L419.2,1819.5L422.2,1819.2L425.2,1818.9L428.2,1818.7L431.2,1818.4L434.2,1818.1L437.3,1817.8L440.3,1817.5L443.3,1817.2L446.3,1816.9L449.3,1816.7L452.3,1816.4L455.3,1816.1L458.3,1815.9L461.4,1815.7L464.4,1815.5L467.4,1815.3L470.4,1815.1L473.4,1815L476.4,1814.8L479.4,1814.7L482.4,1814.6L485.4,1814.5L488.4,1814.4L491.4,1814.3L494.4,1814.3L497.4,1814.2L500.4,1814.2L503.4,1814.1L506.4,1814.1L509.4,1814.1L512.4,1814.1L515.4,1814.1L518.4,1814.2L521.4,1814.2L524.4,1814.2L527.4,1814.3L530.4,1814.3L533.4,1814.4L536.4,1814.5L539.4,1814.5L542.4,1814.6L545.4,1814.7L548.4,1814.8L551.4,1814.9L554.4,1815L557.4,1815.1L560.4,1815.2L563.4,1815.3L566.4,1815.4L569.4,1815.5L572.4,1815.6L575.4,1815.8L578.4,1815.9L581.4,1816L584.4,1816.1L587.4,1816.2L590.4,1816.3L593.4,1816.5L596.4,1816.6L599.4,1816.7L602.4,1816.8L605.4,1816.9L608.4,1817L611.4,1817.1L614.4,1817.2L617.4,1817.3L620.4,1817.4L623.4,1817.4L626.4,1817.5L629.5,1817.6L632.5,1817.6L635.5,1817.7L638.5,1817.7L641.5,1817.8L644.5,1817.8L647.6,1817.8L650.6,1817.8L653.6,1817.8L656.6,1817.8L659.7,1817.8L662.7,1817.8L665.7,1817.7L668.7,1817.7L671.8,1817.6L674.8,1817.5L677.9,1817.5L680.9,1817.4L683.9,1817.3L687,1817.2L690,1817.1L693,1817.1L696,1817L699.1,1817L702.1,1817L705.1,1817.1L708,1817.2L711,1817.3L714,1817.5L716.9,1817.8L719.9,1818.1L722.8,1818.5L725.7,1819L728.6,1819.5L731.5,1820L734.4,1820.6L737.3,1821.3L740.2,1821.9L743.1,1822.6L746,1823.3L748.9,1824L751.9,1824.7L754.8,1825.3L757.8,1826L760.8,1826.6L763.8,1827.2L766.8,1827.8L769.9,1828.3L772.9,1828.9L775.9,1829.3L779,1829.7L782,1830.1L785.1,1830.4L788.1,1830.7L791.2,1830.9L794.2,1831L797.2,1831.1L800.2,1831.1L803.2,1831L806.2,1830.9L809.2,1830.6L812.1,1830.3L815,1829.9L817.9,1829.4L820.8,1828.7L823.6,1828L826.4,1827.2L829.2,1826.2L831.9,1825.2L834.6,1824L837.2,1822.7L839.9,1821.3L842.5,1819.9L845,1818.3L847.6,1816.7L850.1,1815.1L852.7,1813.4L855.2,1811.7L857.7,1809.9L860.2,1808.1L862.7,1806.4L865.3,1804.6L867.8,1802.9L870.4,1801.2L872.9,1799.5L875.5,1797.8L878.2,1796.3L880.8,1794.7L883.4,1793.2L886.1,1791.8L888.8,1790.4L891.5,1789L894.2,1787.7L897,1786.4L899.7,1785.2L902.5,1784L905.3,1782.8L908.1,1781.7L910.9,1780.7L913.8,1779.6L916.6,1778.7L919.5,1777.7L922.3,1776.8L925.2,1776L928.1,1775.2L931,1774.4L933.9,1773.7L936.8,1773L939.7,1772.3L942.6,1771.7L945.6,1771.1L948.5,1770.6L951.5,1770.1L954.4,1769.7L957.4,1769.3L960.4,1768.9L963.3,1768.5L966.3,1768.2L969.3,1768L972.3,1767.7L975.2,1767.5L978.2,1767.3L981.2,1767.1L984.2,1767L987.2,1766.9L990.2,1766.8L993.2,1766.7L996.2,1766.6L999.2,1766.5L1002.2,1766.5L1005.2,1766.4L1008.2,1766.4L1011.2,1766.4L1014.3,1766.4L1017.3,1766.3L1020.3,1766.3L1023.3,1766.3L1026.3,1766.3L1029.3,1766.3L1032.3,1766.2L1035.3,1766.2L1038.4,1766.1L1041.4,1766.1L1044.4,1766L1047.4,1765.9L1050.4,1765.8L1053.4,1765.6L1056.4,1765.5L1059.4,1765.3L1062.4,1765.1L1065.4,1764.8L1068.4,1764.6L1071.4,1764.3L1074.4,1764L1077.4,1763.6L1080.3,1763.3L1083.3,1762.9L1086.3,1762.4L1089.2,1762L1092.2,1761.5L1095.2,1761L1098.1,1760.4L1101.1,1759.9L1104,1759.3L1106.9,1758.6L1109.8,1757.9L1112.8,1757.3L1115.7,1756.5L1118.6,1755.8L1121.5,1755L1124.4,1754.1L1127.2,1753.3L1130.1,1752.4L1133,1751.5L1135.8,1750.5L1138.7,1749.5L1141.5,1748.5L1144.3,1747.5L1147.1,1746.4L1149.9,1745.3L1152.7,1744.2L1155.5,1743.1L1158.3,1742L1161.1,1740.8L1163.9,1739.7L1166.7,1738.5L1169.5,1737.4L1172.3,1736.3L1175.1,1735.2L1177.9,1734.1L1180.8,1733L1183.6,1731.9L1186.4,1730.9L1189.2,1729.9L1192.1,1729L1194.9,1728L1197.8,1727.1L1200.7,1726.3L1203.6,1725.5L1206.4,1724.7L1209.3,1723.9L1212.2,1723.1L1215.1,1722.4L1218.1,1721.7L1221,1720.9L1223.9,1720.2L1226.8,1719.5L1229.7,1718.8L1232.6,1718.1L1235.6,1717.4L1238.5,1716.7L1241.4,1715.9L1244.3,1715.2L1247.2,1714.5L1250.1,1713.7L1253.1,1713L1256,1712.3L1258.9,1711.5L1261.8,1710.8L1264.7,1710.1L1267.6,1709.3L1270.6,1708.6L1273.5,1707.9L1276.4,1707.1L1279.3,1706.4L1282.2,1705.6L1285.1,1704.9L1288.1,1704.2L1291,1703.4L1293.9,1702.7L1296.8,1702L1299.7,1701.3L1302.6,1700.5L1305.6,1699.8L1308.5,1699.1L1311.4,1698.4L1314.3,1697.7L1317.2,1697L1320.1,1696.3L1323.1,1695.6L1326,1694.9L1328.9,1694.1L1331.8,1693.4L1334.7,1692.7L1337.6,1692L1340.5,1691.3L1343.5,1690.6L1346.4,1689.8L1349.3,1689.1L1352.2,1688.4L1355.1,1687.6L1358,1686.9L1360.9,1686.1L1363.8,1685.4L1366.7,1684.6L1369.6,1683.9L1372.5,1683.1L1375.4,1682.3L1378.3,1681.6L1381.3,1680.8L1384.2,1680L1387.1,1679.3L1390,1678.5L1392.9,1677.8L1395.8,1677L1398.7,1676.3L1401.6,1675.5L1404.5,1674.8L1407.4,1674L1410.4,1673.3L1413.3,1672.5L1416.2,1671.8L1419.1,1671.1L1422,1670.4L1425,1669.7L1427.9,1669L1430.8,1668.3L1433.7,1667.6L1436.7,1667L1439.6,1666.3L1442.6,1665.7L1445.5,1665L1448.4,1664.4L1451.4,1663.8L1454.3,1663.2L1457.3,1662.6L1460.2,1662L1463.2,1661.5L1466.1,1660.9L1469.1,1660.3L1472.1,1659.8L1475,1659.2L1478,1658.7L1480.9,1658.1L1483.9,1657.5L1486.8,1657L1489.8,1656.4L1492.7,1655.8L1495.7,1655.2L1498.6,1654.6L1501.6,1654L1504.5,1653.4L1507.5,1652.7L1510.4,1652.1L1513.3,1651.4L1516.2,1650.7L1519.2,1650L1522.1,1649.3L1525,1648.5L1527.9,1647.8L1530.8,1647L1533.7,1646.2L1536.6,1645.3L1539.5,1644.4L1542.3,1643.5L1545.2,1642.6L1548,1641.6L1550.9,1640.6L1553.7,1639.6L1556.6,1638.6L1559.4,1637.6L1562.3,1636.6L1565.1,1635.6L1568,1634.6L1570.8,1633.6L1573.7,1632.7L1576.5,1631.9L1579.4,1631.1L1582.3,1630.3L1585.2,1629.7L1588.2,1629.1L1591.1,1628.6L1594.1,1628.1L1597,1627.7L1600,1627.4L1603,1627.1L1606,1626.8L1609,1626.5L1612,1626.2L1615,1625.9L1618,1625.5L1620.9,1625.2L1623.9,1624.8L1626.9,1624.4L1629.8,1623.9L1632.8,1623.5L1635.7,1623.1L1638.7,1622.7L1641.7,1622.3L1644.7,1621.9L1647.7,1621.5L1650.7,1621.2L1653.7,1620.9L1656.7,1620.7L1659.8,1620.4L1662.8,1620.3L1665.8,1620.1L1668.9,1620L1671.9,1620L1674.9,1620L1677.9,1620L1680.9,1620.1L1684,1620.2L1687,1620.4L1689.9,1620.7L1692.9,1621L1695.9,1621.4L1698.8,1621.8L1701.8,1622.3L1704.7,1622.9L1707.6,1623.6L1710.5,1624.3L1713.3,1625.1L1716.2,1626L1719,1626.9L1721.8,1628L1724.5,1629.1L1727.3,1630.2L1730,1631.5L1732.8,1632.7L1735.5,1634L1738.2,1635.3L1740.9,1636.6L1743.7,1637.9L1746.4,1639.2L1749.2,1640.5L1751.9,1641.7L1754.7,1643L1757.5,1644.2L1760.3,1645.4L1763.1,1646.5L1765.9,1647.7L1768.7,1648.8L1771.5,1649.8L1774.4,1650.9L1777.2,1651.9L1780.1,1652.9L1782.9,1653.8L1785.8,1654.7L1788.7,1655.5L1791.6,1656.4L1794.5,1657.2L1797.3,1657.9L1800.3,1658.7L1803.2,1659.4L1806.1,1660L1809,1660.7L1811.9,1661.3L1814.8,1661.9L1817.8,1662.5L1820.7,1663.1L1823.7,1663.6L1826.6,1664.2L1829.6,1664.7L1832.5,1665.2L1835.5,1665.7L1838.4,1666.2L1841.4,1666.6L1844.4,1667.1L1847.3,1667.5L1850.3,1668L1853.3,1668.4L1856.3,1668.8L1859.2,1669.2L1862.2,1669.7L1865.2,1670.1L1868.2,1670.5L1871.1,1670.9L1874.1,1671.4L1877.1,1671.8L1880.1,1672.2L1883,1672.7L1886,1673.1L1889,1673.5L1892,1674L1895,1674.4L1897.9,1674.9L1900.9,1675.3L1903.9,1675.7L1906.9,1676.2L1909.8,1676.6L1912.8,1677L1915.8,1677.4L1918.8,1677.9L1921.8,1678.3L1924.8,1678.6L1927.7,1679L1930.7,1679.4L1933.7,1679.8L1936.7,1680.1L1939.7,1680.4L1942.7,1680.8L1945.7,1681.1L1948.7,1681.4L1951.6,1681.6L1954.6,1681.9L1957.6,1682.2L1960.6,1682.4L1963.6,1682.6L1966.6,1682.8L1969.6,1683L1972.6,1683.1L1975.6,1683.3L1978.6,1683.4L1981.6,1683.5L1984.6,1683.6L1987.6,1683.6L1990.6,1683.7L1993.6,1683.7L1996.6,1683.7L1999.6,1683.7L2002.6,1683.6L2005.6,1683.5L2008.6,1683.4L2011.5,1683.3L2014.5,1683.2L2017.5,1683L2020.5,1682.8L2023.5,1682.6L2026.5,1682.4L2029.5,1682.1L2032.4,1681.8L2035.4,1681.5L2038.4,1681.2L2041.4,1680.8L2044.4,1680.5L2047.3,1680.1L2050.3,1679.7L2053.3,1679.3L2056.3,1678.9L2059.3,1678.4L2062.2,1678L2065.2,1677.5L2068.2,1677.1L2071.2,1676.6L2074.2,1676.1L2077.2,1675.7L2080.2,1675.2L2083.2,1674.7L2086.2,1674.3L2089.2,1673.8L2092.2,1673.3L2095.2,1672.9L2098.2,1672.4L2101.2,1672L2104.2,1671.5L2107.3,1671.1L2110.3,1670.7L2113.3,1670.2L2116.3,1669.8L2119.4,1669.5L2122.4,1669.1L2125.5,1668.8L2128.5,1668.5L2131.5,1668.3L2134.5,1668.2L2137.4,1668.3L2140.3,1668.6L2143,1669.1L2145.7,1669.8L2148.2,1670.9L2150.6,1672.3L2152.9,1674L2155.1,1675.9L2157.2,1677.9L2159.3,1680.1L2161.4,1682.5L2163.4,1684.8L2165.4,1687.2L2167.5,1689.6L2169.6,1691.8L2171.8,1693.9L2174,1695.8L2176.3,1697.4L2178.7,1698.7L2181.2,1699.7L2183.8,1700.4L2186.5,1700.9L2189.2,1701.1L2192.1,1701.1L2195,1701L2197.9,1700.7L2200.9,1700.3L2203.9,1699.7L2206.9,1699.1L2210,1698.5L2213,1697.8L2216.1,1697.1L2219.1,1696.4L2222.2,1695.7L2225.3,1694.9L2228.3,1694L2231.3,1693.2L2234.3,1692.2L2237.3,1691.3L2240.3,1690.3L2243.2,1689.2L2246.1,1688.1L2249,1687L2251.8,1685.8L2254.6,1684.5L2257.4,1683.2L2260.1,1681.8L2262.7,1680.4L2265.3,1678.9L2267.8,1677.3L2270.3,1675.7L2272.6,1674L2275,1672.2L2277.2,1670.4L2279.4,1668.5L2281.5,1666.5L2283.5,1664.4L2285.4,1662.2L2287.2,1660L2288.9,1657.7L2290.5,1655.3L2292,1652.8L2293.5,1650.2L2294.8,1647.5L2296.1,1644.8L2297.3,1642.1L2298.5,1639.3L2299.6,1636.4L2300.6,1633.5L2301.7,1630.6L2302.6,1627.7L2303.6,1624.7L2304.6,1621.8L2305.5,1618.8L2306.5,1615.8L2307.4,1612.8L2308.4,1609.9L2309.4,1607L2310.4,1604.1L2311.5,1601.2L2312.5,1598.3L2313.7,1595.5L2314.8,1592.8L2316.1,1590.1L2317.4,1587.4L2318.7,1584.8L2320.2,1582.3L2321.7,1579.9L2323.3,1577.5L2325,1575.2L2326.8,1573L2328.8,1570.9L2330.8,1568.9L2333,1567.1L2335.3,1565.3L2337.7,1563.6L2340.2,1562L2342.8,1560.6L2345.5,1559.2L2348.2,1557.8L2351,1556.5L2353.9,1555.3L2356.8,1554.1L2359.7,1552.9L2362.6,1551.8L2365.5,1550.6L2368.4,1549.5L2371.3,1548.4L2374.1,1547.2L2377,1546.1L2379.8,1545.1L2382.6,1544L2385.4,1543.1L2388.3,1542.2L2391.1,1541.3L2393.9,1540.6L2396.7,1540L2399.6,1539.4L2402.4,1539L2405.3,1538.7L2408.2,1538.6L2411.1,1538.6L2414.1,1538.8L2417,1539.2L2420.1,1539.7L2423.1,1540.4L2426.2,1541.4L2429.4,1542.5"/>
<path stroke="#0d0da6" d="M288.2,1038.6L289.3,1041.5L290.5,1044.3L291.7,1047.2L293,1049.9L294.3,1052.7L295.6,1055.4L296.9,1058.1L298.4,1060.8L299.8,1063.4L301.3,1066L302.8,1068.6L304.3,1071.1L305.9,1073.7L307.5,1076.1L309.2,1078.6L310.9,1081L312.6,1083.4L314.4,1085.8L316.2,1088.2L318,1090.5L319.8,1092.8L321.7,1095.1L323.6,1097.4L325.6,1099.7L327.6,1101.9L329.6,1104.1L331.6,1106.3L333.6,1108.5L335.7,1110.6L337.8,1112.7L340,1114.9L342.2,1117L344.4,1119.1L346.6,1121.1L348.8,1123.2L351.1,1125.2L353.4,1127.2L355.7,1129.3L358,1131.3L360.4,1133.3L362.8,1135.2L365.2,1137.2L367.6,1139.2L370,1141.1L372.5,1143L375,1144.8L377.5,1146.5L380.1,1148.1L382.6,1149.7L385.2,1151.1L387.9,1152.3L390.6,1153.4L393.3,1154.3L396,1155L398.8,1155.4L401.6,1155.7L404.5,1155.7L407.4,1155.5L410.3,1155L413.2,1154.4L416.2,1153.7L419.2,1152.9L422.2,1151.9L425.2,1151L428.2,1150.1L431.1,1149.2L434.1,1148.3L437.1,1147.4L440,1146.5L443,1145.7L445.9,1144.8L448.8,1144L451.8,1143.2L454.7,1142.4L457.6,1141.6L460.5,1140.8L463.4,1140L466.3,1139.3L469.2,1138.5L472.1,1137.8L475,1137L477.9,1136.3L480.8,1135.6L483.7,1134.9L486.5,1134.1L489.4,1133.4L492.3,1132.7L495.2,1132L498.1,1131.2L501,1130.5L503.9,1129.8L506.8,1129L509.6,1128.3L512.5,1127.6L515.4,1126.8L518.3,1126.1L521.2,1125.4L524.1,1124.6L527,1123.9L529.9,1123.1L532.8,1122.4L535.7,1121.6L538.6,1120.9L541.5,1120.1L544.4,1119.4L547.3,1118.6L550.2,1117.9L553.1,1117.1L556,1116.4L558.9,1115.6L561.9,1114.8L564.8,1114.1L567.7,1113.3L570.6,1112.5L573.5,1111.8L576.4,1111L579.3,1110.2L582.2,1109.5L585.1,1108.7L588,1107.9L590.9,1107.1L593.8,1106.4L596.8,1105.6L599.7,1104.8L602.6,1104L605.5,1103.2L608.4,1102.4L611.3,1101.7L614.2,1100.9L617.1,1100.1L620,1099.3L622.9,1098.5L625.8,1097.7L628.7,1096.9L631.6,1096.1L634.5,1095.3L637.4,1094.5L640.4,1093.7L643.3,1092.9L646.2,1092.1L649.1,1091.3L652,1090.5L654.9,1089.7L657.8,1088.9L660.7,1088.1L663.5,1087.3L666.4,1086.5L669.3,1085.7L672.2,1084.9L675.1,1084.1L678,1083.3L680.9,1082.5L683.8,1081.7L686.7,1080.8L689.6,1080L692.4,1079.2L695.3,1078.4L698.2,1077.6L701.1,1076.7L704,1075.9L706.8,1075.1L709.7,1074.2L712.6,1073.4L715.5,1072.5L718.3,1071.7L721.2,1070.8L724.1,1069.9L727,1069.1L729.8,1068.2L732.7,1067.3L735.6,1066.4L738.4,1065.5L741.3,1064.6L744.1,1063.7L747,1062.8L749.9,1061.8L752.7,1060.9L755.6,1060L758.4,1059L761.3,1058.1L764.1,1057.1L767,1056.1L769.8,1055.2L772.7,1054.2L775.5,1053.2L778.4,1052.2L781.2,1051.3L784.1,1050.3L786.9,1049.4L789.8,1048.4L792.7,1047.5L795.5,1046.6L798.4,1045.7L801.3,1044.8L804.2,1043.9L807,1043.1L809.9,1042.2L812.8,1041.4L815.7,1040.7L818.6,1039.9L821.5,1039.2L824.5,1038.5L827.4,1037.8L830.3,1037.2L833.3,1036.6L836.2,1036L839.2,1035.4L842.1,1034.8L845,1034.2L848,1033.6L850.9,1032.9L853.8,1032.3L856.8,1031.6L859.7,1030.9L862.6,1030.2L865.5,1029.4L868.3,1028.6L871.2,1027.7L874,1026.7L876.9,1025.7L879.7,1024.7L882.5,1023.6L885.3,1022.4L888.1,1021.3L890.8,1020.1L893.6,1018.9L896.4,1017.8L899.2,1016.7L902,1015.6L904.9,1014.6L907.7,1013.6L910.5,1012.6L913.4,1011.8L916.3,1010.9L919.2,1010.1L922,1009.3L924.9,1008.5L927.9,1007.8L930.8,1007.1L933.7,1006.5L936.6,1005.8L939.6,1005.2L942.5,1004.6L945.5,1004.1L948.4,1003.5L951.4,1003L954.3,1002.4L957.3,1001.9L960.3,1001.4L963.2,1000.9L966.2,1000.4L969.1,999.9L972.1,999.4L975.1,998.9L978,998.4L981,997.9L984,997.4L986.9,996.9L989.9,996.5L992.9,996L995.9,995.5L998.8,995.1L1001.8,994.6L1004.8,994.1L1007.7,993.7L1010.7,993.2L1013.7,992.8L1016.7,992.3L1019.6,991.8L1022.6,991.4L1025.6,990.9L1028.6,990.5L1031.5,990L1034.5,989.6L1037.5,989.1L1040.4,988.7L1043.4,988.2L1046.4,987.8L1049.4,987.3L1052.3,986.9L1055.3,986.4L1058.3,985.9L1061.2,985.5L1064.2,985L1067.2,984.5L1070.2,984.1L1073.1,983.6L1076.1,983.1L1079.1,982.6L1082,982.2L1085,981.7L1087.9,981.2L1090.9,980.7L1093.9,980.2L1096.8,979.7L1099.8,979.2L1102.8,978.7L1105.7,978.1L1108.7,977.6L1111.6,977.1L1114.6,976.6L1117.5,976L1120.5,975.5L1123.4,974.9L1126.4,974.3L1129.3,973.8L1132.3,973.2L1135.2,972.6L1138.2,972L1141.1,971.4L1144,970.8L1147,970.2L1149.9,969.5L1152.8,968.9L1155.8,968.3L1158.7,967.6L1161.6,966.9L1164.6,966.3L1167.5,965.6L1170.4,964.9L1173.3,964.2L1176.2,963.5L1179.1,962.7L1182.1,962L1185,961.3L1187.9,960.5L1190.8,959.7L1193.7,958.9L1196.6,958.1L1199.5,957.3L1202.4,956.5L1205.3,955.7L1208.2,954.8L1211,954L1213.9,953.1L1216.8,952.2L1219.7,951.3L1222.6,950.4L1225.4,949.4L1228.3,948.5L1231.1,947.5L1234,946.6L1236.8,945.6L1239.7,944.6L1242.5,943.6L1245.3,942.5L1248.2,941.5L1251,940.4L1253.8,939.3L1256.6,938.2L1259.4,937.1L1262.2,936L1265,934.8L1267.7,933.7L1270.5,932.5L1273.3,931.3L1276,930L1278.7,928.8L1281.5,927.6L1284.2,926.3L1286.9,925L1289.6,923.7L1292.3,922.4L1295,921L1297.7,919.6L1300.3,918.3L1303,916.9L1305.6,915.4L1308.3,914L1310.9,912.5L1313.5,911L1316.1,909.5L1318.7,908L1321.3,906.5L1323.8,904.9L1326.4,903.3L1328.9,901.7L1331.5,900.1L1334,898.5L1336.5,896.8L1339,895.2L1341.5,893.5L1344,891.9L1346.6,890.2L1349.1,888.6L1351.6,886.9L1354.1,885.3L1356.6,883.7L1359.2,882L1361.7,880.4L1364.2,878.8L1366.8,877.2L1369.3,875.7L1371.9,874.1L1374.5,872.6L1377.1,871.1L1379.7,869.6L1382.3,868.2L1385,866.7L1387.6,865.3L1390.3,863.9L1393,862.5L1395.6,861.2L1398.3,859.9L1401,858.5L1403.7,857.2L1406.5,855.9L1409.2,854.7L1411.9,853.4L1414.6,852.2L1417.4,850.9L1420.1,849.7L1422.9,848.5L1425.6,847.3L1428.4,846.1L1431.2,844.9L1433.9,843.7L1436.7,842.6L1439.5,841.4L1442.2,840.2L1445,839.1L1447.8,837.9L1450.6,836.8L1453.3,835.6L1456.1,834.5L1458.8,833.4L1461.6,832.2L1464.4,831.1L1467.1,829.9L1469.9,828.7L1472.6,827.6L1475.3,826.4L1478,825.1L1480.7,823.9L1483.4,822.6L1486.1,821.3L1488.8,819.9L1491.4,818.5L1494,817.1L1496.6,815.6L1499.2,814.1L1501.8,812.6L1504.4,811.1L1506.9,809.5L1509.5,807.8L1512,806.2L1514.5,804.5L1517,802.8L1519.4,801.1L1521.9,799.3L1524.3,797.5L1526.7,795.7L1529.1,793.8L1531.5,792L1533.9,790.1L1536.2,788.2L1538.6,786.2L1540.9,784.3L1543.2,782.3L1545.5,780.3L1547.7,778.3L1550,776.2L1552.2,774.2L1554.4,772.1L1556.6,770L1558.8,767.9L1561,765.8L1563.1,763.7L1565.2,761.5L1567.3,759.4L1569.4,757.2L1571.5,755L1573.6,752.8L1575.7,750.7L1577.7,748.5L1579.8,746.3L1581.9,744.1L1583.9,741.9L1586,739.7L1588,737.5L1590.1,735.4L1592.1,733.2L1594.2,731L1596.3,728.9L1598.4,726.7L1600.5,724.6L1602.6,722.5L1604.7,720.4L1606.8,718.3L1608.9,716.3L1611.1,714.2L1613.3,712.2L1615.5,710.2L1617.7,708.3L1619.9,706.3L1622.2,704.4L1624.5,702.5L1626.8,700.6L1629.1,698.8L1631.4,696.9L1633.7,695L1636,693L1638.3,691.1L1640.5,689L1642.7,686.9L1644.9,684.8L1647.1,682.7L1649.2,680.5L1651.4,678.3L1653.5,676.1L1655.7,673.9L1657.8,671.8L1660,669.7L1662.2,667.6L1664.5,665.6L1666.8,663.7L1669.1,661.8L1671.6,660.1L1674,658.4L1676.6,656.9L1679.2,655.5L1681.9,654.3L1684.7,653.2L1687.5,652.3L1690.4,651.5L1693.3,651L1696.3,650.8L1699.2,650.7L1702.2,651L1705.1,651.5L1708,652.3L1710.9,653.4L1713.7,654.8L1716.4,656.3L1719,658L1721.5,659.8L1724,661.6L1726.4,663.5L1728.7,665.3L1731.1,667.2L1733.5,669L1736,670.7L1738.4,672.4L1741,673.9L1743.6,675.4L1746.4,676.7L1749.1,677.9L1751.9,679.1L1754.7,680.2L1757.6,681.4L1760.4,682.5L1763.2,683.6L1765.9,684.9L1768.7,686.1L1771.4,687.4L1774,688.8L1776.6,690.2L1779.2,691.6L1781.8,693.1L1784.4,694.6L1786.9,696.1L1789.4,697.6L1792,699.2L1794.5,700.8L1797,702.4L1799.5,704L1802,705.6L1804.5,707.2L1807,708.8L1809.6,710.4L1812.1,712L1814.7,713.6L1817.3,715.2L1819.9,716.7L1822.6,718.2L1825.3,719.7L1828,721.2L1830.8,722.6L1833.5,724L1836.4,725.4L1839.2,726.8L1842,728.1L1844.8,729.5L1847.5,731L1850.2,732.4L1852.8,733.9L1855.4,735.5L1857.8,737.2L1860.2,738.9L1862.5,740.7L1864.6,742.7L1866.5,744.7L1868.4,746.9L1870,749.2L1871.5,751.7L1872.9,754.4L1874.2,757.1L1875.4,759.9L1876.6,762.7L1877.8,765.5L1879.2,768.1L1880.7,770.7L1882.3,773.2L1884,775.5L1885.8,777.8L1887.7,780L1889.6,782.2L1891.7,784.2L1893.8,786.2L1896,788.1L1898.3,789.9L1900.6,791.7L1903,793.4L1905.4,795.1L1907.9,796.7L1910.5,798.3L1913.1,799.8L1915.8,801.3L1918.4,802.7L1921.2,804.1L1923.9,805.4L1926.7,806.7L1929.5,808L1932.3,809.3L1935.2,810.5L1938,811.8L1940.9,813L1943.7,814.2L1946.6,815.4L1949.4,816.5L1952.3,817.7L1955.1,818.9L1958,820.1L1960.8,821.2L1963.6,822.4L1966.4,823.5L1969.2,824.7L1972.1,825.8L1974.9,826.9L1977.7,828L1980.5,829L1983.3,830.1L1986.1,831.1L1988.9,832.1L1991.7,833.1L1994.6,834.1L1997.4,835L2000.2,835.9L2003,836.8L2005.9,837.6L2008.7,838.4L2011.6,839.2L2014.4,839.9L2017.3,840.6L2020.2,841.3L2023.1,841.9L2026,842.5L2028.9,843.1L2031.8,843.6L2034.8,844L2037.7,844.5L2040.7,844.9L2043.6,845.2L2046.6,845.6L2049.6,845.9L2052.6,846.1L2055.6,846.4L2058.6,846.6L2061.6,846.8L2064.6,847L2067.6,847.1L2070.6,847.3L2073.7,847.4L2076.7,847.5L2079.7,847.6L2082.8,847.7L2085.8,847.7L2088.8,847.8L2091.9,847.8L2094.9,847.9L2098,847.9L2101,847.9L2104,848L2107.1,848L2110.1,848L2113.1,848L2116.2,848.1L2119.2,848.1L2122.2,848.1L2125.2,848.2L2128.2,848.3L2131.2,848.3L2134.2,848.4L2137.2,848.5L2140.2,848.6L2143.2,848.7L2146.2,848.8L2149.2,848.9L2152.2,849L2155.2,849.1L2158.1,849.2L2161.1,849.3L2164.1,849.4L2167.1,849.4L2170,849.5L2173,849.5L2176,849.5L2179,849.5L2182,849.5L2185,849.4L2188,849.3L2191,849.2L2194,849L2197,848.8L2200,848.6L2203,848.3L2206.1,848L2209.1,847.6L2212.1,847.2L2215.1,846.7L2218.1,846L2220.9,845.1L2223.6,844L2226.1,842.6L2228.5,841L2230.8,839.2L2232.9,837.1L2235,835L2237.1,832.9L2239.1,830.7L2241.2,828.4L2243.2,826.2L2245.2,823.9L2247.2,821.6L2249.2,819.3L2251.1,817L2253.1,814.7L2255,812.3L2257,810L2259,807.7L2261,805.4L2263,803.2L2265.1,801L2267.2,798.9L2269.3,796.8L2271.5,794.9L2273.8,793L2276.2,791.3L2278.7,789.6L2281.2,788.1L2283.8,786.6L2286.4,785.3L2289.2,784L2291.9,782.8L2294.8,781.7L2297.6,780.6L2300.5,779.5L2303.4,778.5L2306.3,777.5L2309.2,776.5L2312.1,775.5L2315,774.5L2317.9,773.4L2320.7,772.4L2323.6,771.2L2326.4,770.1L2329.1,768.8L2331.8,767.5L2334.4,766.1L2336.9,764.6L2339.4,763L2341.8,761.3L2344.1,759.5L2346.3,757.6L2348.5,755.6L2350.6,753.6L2352.7,751.4L2354.8,749.3L2356.8,747.1L2358.8,744.8L2360.8,742.6L2362.7,740.3L2364.7,738.1L2366.7,735.8L2368.6,733.5L2370.6,731.3L2372.5,729L2374.4,726.7L2376.4,724.4L2378.3,722.1L2380.2,719.8L2382.2,717.5L2384.1,715.2L2386,712.8L2387.9,710.5L2389.8,708.2L2391.7,705.9L2393.6,703.5L2395.5,701.2L2397.4,698.8L2399.3,696.5L2401.1,694.2L2403,691.8L2404.9,689.5L2406.8,687.1L2408.7,684.8L2410.5,682.4L2412.4,680.1L2414.3,677.7L2416.1,675.4L2418,673L2419.9,670.7L2421.8,668.3L2423.6,666L2425.5,663.6L2427.4,661.3"/>
<path stroke="#0d0da6" stroke-dasharray="28 10" d="M278,1475.9L279.1,1478.7L280.4,1481.4L281.6,1484.1L283,1486.8L284.4,1489.4L285.8,1492L287.4,1494.6L288.9,1497.1L290.6,1499.7L292.3,1502.1L294,1504.6L295.8,1507L297.7,1509.4L299.5,1511.7L301.5,1514L303.5,1516.3L305.5,1518.5L307.6,1520.7L309.7,1522.8L311.9,1525L314.1,1527L316.4,1529L318.7,1531L321,1532.9L323.4,1534.8L325.8,1536.7L328.2,1538.5L330.7,1540.2L333.2,1541.9L335.7,1543.6L338.3,1545.2L340.8,1546.7L343.5,1548.2L346.1,1549.7L348.7,1551.1L351.4,1552.4L354.1,1553.7L356.9,1554.9L359.6,1556L362.4,1557.1L365.2,1558.1L368.1,1559L370.9,1559.8L373.8,1560.5L376.7,1561.1L379.6,1561.6L382.6,1562L385.5,1562.3L388.5,1562.5L391.5,1562.6L394.6,1562.7L397.6,1562.7L400.6,1562.7L403.7,1562.7L406.7,1562.7L409.7,1562.7L412.8,1562.7L415.8,1562.7L418.8,1562.7L421.8,1562.7L424.9,1562.7L427.9,1562.8L430.9,1562.8L433.9,1562.8L436.9,1562.9L439.9,1562.9L442.9,1562.9L446,1563L449,1563L452,1563.1L455,1563.1L458,1563.2L461,1563.2L464,1563.3L467,1563.3L470,1563.3L473,1563.4L476,1563.4L479,1563.4L481.9,1563.5L484.9,1563.5L487.9,1563.5L490.9,1563.5L493.9,1563.5L496.9,1563.5L499.9,1563.5L502.9,1563.4L505.9,1563.4L508.9,1563.4L511.9,1563.3L514.9,1563.3L517.9,1563.2L520.9,1563.2L524,1563.1L527,1563L530,1562.9L533,1562.9L536,1562.8L539,1562.7L542,1562.6L545,1562.5L548,1562.3L551,1562.2L554,1562.1L557,1562L560,1561.8L563,1561.7L566,1561.5L569,1561.4L572,1561.2L575,1561.1L578,1560.9L581,1560.7L584,1560.5L587,1560.4L590,1560.2L593,1560L596,1559.8L599,1559.6L602,1559.4L605,1559.2L608,1558.9L611,1558.7L614,1558.5L617,1558.3L620,1558L623,1557.8L626,1557.6L629,1557.3L632,1557.1L635,1556.8L638,1556.6L641,1556.3L644,1556.1L647,1555.8L650,1555.5L653,1555.3L656,1555L659,1554.7L661.9,1554.4L664.9,1554.1L667.9,1553.9L670.9,1553.6L673.9,1553.3L676.9,1553L679.9,1552.7L682.9,1552.4L685.8,1552.1L688.8,1551.8L691.8,1551.5L694.8,1551.2L697.8,1551L700.8,1550.7L703.8,1550.4L706.8,1550.1L709.7,1549.9L712.7,1549.6L715.7,1549.4L718.7,1549.1L721.7,1548.9L724.7,1548.7L727.7,1548.5L730.7,1548.3L733.7,1548.1L736.7,1547.9L739.7,1547.8L742.8,1547.6L745.8,1547.5L748.8,1547.4L751.8,1547.3L754.8,1547.2L757.8,1547L760.9,1546.9L763.9,1546.8L766.9,1546.6L769.9,1546.4L772.9,1546.2L775.9,1546L778.9,1545.7L781.8,1545.3L784.8,1544.9L787.8,1544.4L790.7,1543.9L793.6,1543.4L796.5,1542.7L799.5,1542.1L802.4,1541.4L805.3,1540.6L808.1,1539.8L811,1539L813.9,1538.1L816.7,1537.2L819.6,1536.2L822.4,1535.2L825.3,1534.2L828.1,1533.1L830.9,1532.1L833.7,1530.9L836.5,1529.8L839.3,1528.7L842.1,1527.5L844.9,1526.3L847.6,1525.1L850.4,1523.8L853.1,1522.6L855.9,1521.4L858.6,1520.1L861.4,1518.8L864.1,1517.5L866.9,1516.3L869.6,1515L872.3,1513.7L875.1,1512.4L877.8,1511.1L880.5,1509.9L883.3,1508.6L886,1507.3L888.7,1506.1L891.5,1504.9L894.2,1503.6L896.9,1502.4L899.7,1501.3L902.4,1500.1L905.2,1498.9L908,1497.8L910.7,1496.7L913.5,1495.7L916.3,1494.6L919.1,1493.6L921.9,1492.6L924.7,1491.7L927.6,1490.8L930.4,1489.9L933.3,1489.1L936.1,1488.3L939,1487.6L941.9,1486.9L944.8,1486.2L947.8,1485.6L950.7,1485L953.6,1484.5L956.6,1484L959.5,1483.5L962.5,1483.1L965.5,1482.7L968.5,1482.3L971.5,1481.9L974.5,1481.6L977.5,1481.3L980.5,1481L983.5,1480.8L986.6,1480.5L989.6,1480.3L992.6,1480.1L995.6,1479.9L998.7,1479.8L1001.7,1479.6L1004.8,1479.4L1007.8,1479.3L1010.8,1479.2L1013.9,1479L1016.9,1478.9L1019.9,1478.8L1023,1478.7L1026,1478.5L1029,1478.4L1032,1478.3L1035.1,1478.1L1038.1,1478L1041.1,1477.8L1044.1,1477.6L1047.1,1477.5L1050.1,1477.3L1053.1,1477L1056.1,1476.8L1059,1476.5L1062,1476.3L1065,1475.9L1067.9,1475.6L1070.9,1475.2L1073.9,1474.8L1076.8,1474.4L1079.7,1473.9L1082.7,1473.4L1085.6,1472.9L1088.5,1472.3L1091.4,1471.7L1094.3,1471L1097.2,1470.3L1100.1,1469.5L1103,1468.7L1105.9,1467.8L1108.8,1467L1111.7,1466L1114.5,1465.1L1117.4,1464.2L1120.2,1463.2L1123.1,1462.2L1126,1461.2L1128.8,1460.2L1131.7,1459.2L1134.5,1458.3L1137.4,1457.3L1140.2,1456.3L1143.1,1455.4L1145.9,1454.4L1148.8,1453.5L1151.6,1452.5L1154.5,1451.6L1157.3,1450.7L1160.2,1449.7L1163.1,1448.8L1165.9,1447.9L1168.8,1447L1171.6,1446.1L1174.5,1445.2L1177.4,1444.3L1180.2,1443.4L1183.1,1442.5L1186,1441.6L1188.8,1440.8L1191.7,1439.9L1194.6,1439L1197.4,1438.2L1200.3,1437.3L1203.2,1436.4L1206.1,1435.6L1209,1434.7L1211.8,1433.9L1214.7,1433L1217.6,1432.1L1220.5,1431.3L1223.4,1430.4L1226.3,1429.6L1229.1,1428.7L1232,1427.8L1234.9,1427L1237.8,1426.1L1240.7,1425.2L1243.5,1424.3L1246.4,1423.4L1249.3,1422.5L1252.1,1421.6L1255,1420.7L1257.9,1419.7L1260.7,1418.8L1263.6,1417.9L1266.4,1416.9L1269.3,1415.9L1272.1,1414.9L1274.9,1413.9L1277.8,1412.9L1280.6,1411.9L1283.4,1410.8L1286.2,1409.7L1289,1408.7L1291.8,1407.6L1294.6,1406.4L1297.4,1405.3L1300.1,1404.1L1302.9,1403L1305.6,1401.8L1308.4,1400.5L1311.1,1399.3L1313.9,1398.1L1316.6,1396.8L1319.3,1395.6L1322,1394.3L1324.7,1393L1327.5,1391.7L1330.2,1390.4L1332.9,1389.1L1335.6,1387.8L1338.3,1386.5L1341,1385.2L1343.7,1383.9L1346.4,1382.6L1349.1,1381.3L1351.8,1380.1L1354.6,1378.8L1357.3,1377.5L1360,1376.3L1362.7,1375L1365.5,1373.8L1368.2,1372.6L1370.9,1371.3L1373.7,1370.1L1376.4,1368.9L1379.2,1367.8L1382,1366.6L1384.7,1365.5L1387.5,1364.3L1390.3,1363.2L1393.1,1362.1L1395.9,1361.1L1398.7,1360L1401.5,1359L1404.3,1357.9L1407.2,1356.9L1410,1355.9L1412.9,1355L1415.7,1354L1418.6,1353L1421.4,1352L1424.3,1351.1L1427.1,1350.1L1430,1349.2L1432.8,1348.2L1435.7,1347.2L1438.5,1346.3L1441.4,1345.3L1444.2,1344.3L1447.1,1343.3L1449.9,1342.3L1452.7,1341.3L1455.6,1340.3L1458.4,1339.2L1461.2,1338.2L1464,1337.1L1466.8,1336L1469.5,1334.8L1472.3,1333.7L1475.1,1332.5L1477.8,1331.4L1480.6,1330.2L1483.3,1329L1486.1,1327.7L1488.8,1326.5L1491.5,1325.3L1494.2,1324L1497,1322.7L1499.7,1321.4L1502.4,1320.1L1505.1,1318.8L1507.7,1317.5L1510.4,1316.1L1513.1,1314.8L1515.8,1313.4L1518.5,1312L1521.1,1310.7L1523.8,1309.3L1526.5,1307.9L1529.1,1306.5L1531.8,1305.1L1534.4,1303.7L1537.1,1302.2L1539.8,1300.8L1542.4,1299.4L1545.1,1298L1547.7,1296.5L1550.3,1295.1L1553,1293.6L1555.6,1292.2L1558.3,1290.7L1560.9,1289.3L1563.6,1287.8L1566.2,1286.4L1568.9,1285L1571.6,1283.5L1574.2,1282.1L1576.9,1280.7L1579.5,1279.3L1582.2,1277.9L1584.9,1276.5L1587.6,1275.2L1590.3,1273.8L1593,1272.5L1595.7,1271.1L1598.4,1269.8L1601.1,1268.6L1603.8,1267.3L1606.5,1266.1L1609.3,1264.9L1612,1263.7L1614.8,1262.5L1617.6,1261.4L1620.4,1260.4L1623.2,1259.5L1626,1258.7L1628.8,1258L1631.7,1257.6L1634.6,1257.3L1637.5,1257.2L1640.5,1257.3L1643.4,1257.4L1646.4,1257.7L1649.4,1257.9L1652.4,1258.2L1655.5,1258.4L1658.5,1258.5L1661.5,1258.7L1664.6,1258.8L1667.6,1259L1670.7,1259.1L1673.7,1259.3L1676.7,1259.5L1679.7,1259.8L1682.7,1260.1L1685.7,1260.5L1688.6,1261L1691.6,1261.5L1694.5,1262.1L1697.4,1262.7L1700.3,1263.4L1703.2,1264.1L1706.1,1264.9L1709,1265.7L1711.8,1266.6L1714.7,1267.5L1717.5,1268.4L1720.3,1269.4L1723.1,1270.4L1726,1271.4L1728.8,1272.5L1731.6,1273.5L1734.3,1274.6L1737.1,1275.7L1739.9,1276.9L1742.7,1278L1745.4,1279.2L1748.2,1280.3L1751,1281.5L1753.7,1282.7L1756.5,1283.9L1759.2,1285.2L1762,1286.4L1764.7,1287.7L1767.4,1288.9L1770.1,1290.2L1772.9,1291.5L1775.6,1292.8L1778.3,1294.1L1781,1295.4L1783.7,1296.7L1786.4,1298L1789.2,1299.3L1791.9,1300.7L1794.6,1302L1797.3,1303.3L1800,1304.7L1802.7,1306L1805.4,1307.4L1808.1,1308.7L1810.8,1310.1L1813.4,1311.4L1816.1,1312.7L1818.8,1314.1L1821.5,1315.4L1824.2,1316.8L1826.9,1318.1L1829.6,1319.4L1832.3,1320.7L1835,1322L1837.8,1323.2L1840.5,1324.5L1843.2,1325.7L1846,1326.8L1848.8,1327.9L1851.5,1329L1854.3,1330L1857.2,1331L1860,1331.9L1862.9,1332.8L1865.7,1333.6L1868.6,1334.4L1871.5,1335.3L1874.4,1336.1L1877.3,1336.9L1880.2,1337.8L1883.1,1338.6L1886,1339.5L1888.9,1340.4L1891.7,1341.4L1894.6,1342.4L1897.5,1343.4L1900.4,1344.4L1903.2,1345.4L1906.1,1346.4L1908.9,1347.4L1911.8,1348.4L1914.6,1349.4L1917.5,1350.4L1920.3,1351.4L1923.1,1352.3L1926,1353.2L1928.8,1354.1L1931.6,1355L1934.3,1355.9L1937.1,1356.9L1939.8,1357.9L1942.4,1358.9L1945,1360.1L1947.5,1361.3L1950,1362.6L1952.5,1364L1954.8,1365.5L1957.2,1367.1L1959.6,1368.6L1962.1,1370.2L1964.6,1371.7L1967.1,1373.1L1969.7,1374.5L1972.3,1375.8L1975,1377.1L1977.7,1378.4L1980.4,1379.6L1983.2,1380.7L1985.9,1381.8L1988.7,1382.8L1991.5,1383.8L1994.4,1384.7L1997.2,1385.5L2000.1,1386.3L2003,1387.1L2005.8,1387.8L2008.8,1388.5L2011.7,1389.1L2014.6,1389.7L2017.6,1390.3L2020.5,1390.8L2023.5,1391.3L2026.5,1391.7L2029.5,1392.1L2032.5,1392.5L2035.5,1392.9L2038.5,1393.2L2041.5,1393.6L2044.5,1393.9L2047.6,1394.2L2050.6,1394.4L2053.6,1394.7L2056.7,1394.9L2059.7,1395.2L2062.7,1395.4L2065.8,1395.6L2068.8,1395.8L2071.8,1396L2074.9,1396.2L2077.9,1396.4L2080.9,1396.7L2083.9,1396.9L2086.9,1397.1L2089.9,1397.3L2092.9,1397.6L2095.9,1397.8L2098.9,1398.1L2101.9,1398.3L2104.8,1398.5L2107.8,1398.6L2110.8,1398.7L2113.7,1398.8L2116.7,1398.8L2119.7,1398.8L2122.6,1398.7L2125.6,1398.5L2128.6,1398.2L2131.5,1397.8L2134.5,1397.4L2137.5,1396.8L2140.4,1396.2L2143.4,1395.6L2146.3,1394.8L2149.3,1394.1L2152.2,1393.2L2155.1,1392.3L2158,1391.4L2160.9,1390.5L2163.7,1389.5L2166.6,1388.4L2169.4,1387.4L2172.2,1386.3L2175,1385.2L2177.8,1384.1L2180.5,1383L2183.3,1381.9L2186,1380.7L2188.8,1379.6L2191.5,1378.4L2194.3,1377.2L2197,1376L2199.7,1374.8L2202.5,1373.6L2205.2,1372.5L2208,1371.3L2210.7,1370.1L2213.5,1368.9L2216.3,1367.8L2219.1,1366.6L2221.9,1365.5L2224.7,1364.3L2227.5,1363.2L2230.4,1362.1L2233.2,1361L2236.1,1359.9L2238.9,1358.8L2241.8,1357.7L2244.6,1356.5L2247.4,1355.3L2250.2,1354L2252.9,1352.7L2255.6,1351.4L2258.2,1350L2260.8,1348.5L2263.4,1347L2265.9,1345.4L2268.4,1343.8L2270.8,1342.1L2273.2,1340.3L2275.6,1338.5L2278,1336.7L2280.3,1334.8L2282.5,1332.9L2284.8,1331L2287,1329L2289.2,1327L2291.3,1324.9L2293.5,1322.8L2295.6,1320.7L2297.7,1318.5L2299.7,1316.3L2301.8,1314.1L2303.8,1311.9L2305.8,1309.7L2307.8,1307.4L2309.8,1305.1L2311.8,1302.8L2313.7,1300.5L2315.7,1298.2L2317.6,1295.9L2319.5,1293.5L2321.4,1291.2L2323.2,1288.8L2325.1,1286.4L2326.9,1284L2328.7,1281.5L2330.5,1279.1L2332.2,1276.7L2334,1274.2L2335.7,1271.7L2337.4,1269.2L2339,1266.7L2340.7,1264.2L2342.3,1261.7L2343.9,1259.1L2345.4,1256.5L2346.9,1254L2348.4,1251.4L2349.9,1248.8L2351.3,1246.1L2352.7,1243.5L2354.1,1240.9L2355.4,1238.2L2356.7,1235.5L2358,1232.9L2359.3,1230.2L2360.5,1227.4L2361.7,1224.7L2362.9,1222L2364.1,1219.2L2365.2,1216.4L2366.4,1213.7L2367.5,1210.9L2368.6,1208L2369.7,1205.2L2370.8,1202.4L2371.9,1199.6L2373,1196.7L2374.2,1194L2375.5,1191.2L2376.8,1188.6L2378.2,1186L2379.8,1183.6L2381.5,1181.2L2383.4,1179L2385.5,1176.9L2387.7,1175.1L2390.2,1173.3L2392.8,1171.7L2395.6,1170.3L2398.5,1168.9L2401.4,1167.7L2404.4,1166.5L2407.4,1165.3L2410.4,1164.2L2413.3,1163L2416.2,1161.8L2418.9,1160.6L2421.5,1159.4L2423.9,1158L2426,1156.5"/>
</g>
<g stroke="#000" fill="none">
<line x1="178" y1="17.8" x2="2449" y2="17.8" stroke-width="4.6"/>
<line x1="180.3" y1="15.5" x2="180.3" y2="1867" stroke-width="4.6"/>
<line x1="2446.6" y1="15.5" x2="2446.6" y2="1867" stroke-width="4.8"/>
<line x1="178" y1="1846.6" x2="2449" y2="1846.6" stroke-width="4.8"/>
<line x1="293.8" y1="1846" x2="293.8" y2="1859" stroke-width="3.6"/>
<line x1="407.1" y1="1846" x2="407.1" y2="1859" stroke-width="3.6"/>
<line x1="520.4" y1="1846" x2="520.4" y2="1859" stroke-width="3.6"/>
<line x1="633.7" y1="1846" x2="633.7" y2="1867" stroke-width="4.4"/>
<line x1="747" y1="1846" x2="747" y2="1859" stroke-width="3.6"/>
<line x1="860.3" y1="1846" x2="860.3" y2="1859" stroke-width="3.6"/>
<line x1="973.6" y1="1846" x2="973.6" y2="1859" stroke-width="3.6"/>
<line x1="1086.9" y1="1846" x2="1086.9" y2="1867" stroke-width="4.4"/>
<line x1="1200.2" y1="1846" x2="1200.2" y2="1859" stroke-width="3.6"/>
<line x1="1313.5" y1="1846" x2="1313.5" y2="1859" stroke-width="3.6"/>
<line x1="1426.8" y1="1846" x2="1426.8" y2="1859" stroke-width="3.6"/>
<line x1="1540.1" y1="1846" x2="1540.1" y2="1867" stroke-width="4.4"/>
<line x1="1653.4" y1="1846" x2="1653.4" y2="1859" stroke-width="3.6"/>
<line x1="1766.7" y1="1846" x2="1766.7" y2="1859" stroke-width="3.6"/>
<line x1="1880" y1="1846" x2="1880" y2="1859" stroke-width="3.6"/>
<line x1="1993.3" y1="1846" x2="1993.3" y2="1867" stroke-width="4.4"/>
<line x1="2106.6" y1="1846" x2="2106.6" y2="1859" stroke-width="3.6"/>
<line x1="2219.9" y1="1846" x2="2219.9" y2="1859" stroke-width="3.6"/>
<line x1="2333.2" y1="1846" x2="2333.2" y2="1859" stroke-width="3.6"/>
</g>
<g font-size="44.5" fill="#222" text-anchor="middle">
<text x="181" y="1905">0</text>
<text x="634.2" y="1905">100</text>
<text x="1087.4" y="1905">200</text>
<text x="1540.6" y="1905">300</text>
<text x="1993.8" y="1905">400</text>
<text x="2447" y="1905">500</text>
</g>
<text x="1316.4" y="1982.6" font-size="49.6" fill="#222" text-anchor="middle">Temperature (°C)</text>
<text transform="translate(71.6,931.9) rotate(-90)" font-size="51.7" fill="#222" text-anchor="middle">Heat Flow (W/g)</text>
<text x="14.4" y="1969" font-size="35.7" fill="#222">Exo Up</text>
<g stroke="#000" fill="none">
<line x1="423.4" y1="809.3" x2="469" y2="809.3" stroke-width="4.6"/>
<line x1="423.4" y1="901.4" x2="469" y2="901.4" stroke-width="4.6"/>
<line x1="446.5" y1="809" x2="446.5" y2="901" stroke-width="4"/>
</g>
<text x="478.5" y="854.8" font-size="39.5" fill="#222">0.5</text>
<text x="479.8" y="898.7" font-size="39.5" fill="#222">W/g</text>
<line x1="202.5" y1="86.4" x2="327.2" y2="86.4" stroke="#5c1214" stroke-width="3.6"/>
<rect x="343.3" y="81.2" width="4" height="4" fill="#5c1214" opacity="0.75"/>
<text x="423.4" y="99.2" font-size="43.5" fill="#742424">blanched-CVD.001</text>
<line x1="202.5" y1="135.6" x2="375.9" y2="135.6" stroke="#5c1214" stroke-width="3.6"/>
<text x="423.4" y="148.4" font-size="43.5" fill="#742424">blanched-FD.001</text>
<line x1="202.5" y1="184.8" x2="226.9" y2="184.8" stroke="#5c1214" stroke-width="3.6"/>
<line x1="238.7" y1="184.8" x2="264.5" y2="184.8" stroke="#5c1214" stroke-width="3.6"/>
<line x1="276.4" y1="184.8" x2="301.4" y2="184.8" stroke="#5c1214" stroke-width="3.6"/>
<line x1="314" y1="184.8" x2="338.3" y2="184.8" stroke="#5c1214" stroke-width="3.6"/>
<text x="423.4" y="197.6" font-size="43.5" fill="#742424">blanched-HAD.001</text>
<line x1="202.5" y1="234" x2="327.2" y2="234" stroke="#1f701f" stroke-width="3.6"/>
<rect x="343.3" y="228.8" width="4" height="4" fill="#1f701f" opacity="0.75"/>
<text x="423.4" y="246.8" font-size="43.5" fill="#2d842d">control CVD.001</text>
<line x1="202.5" y1="283.2" x2="375.9" y2="283.2" stroke="#1f701f" stroke-width="3.6"/>
<text x="423.4" y="296" font-size="43.5" fill="#2d842d">control FD.001</text>
<line x1="202.5" y1="332.4" x2="226.9" y2="332.4" stroke="#1f701f" stroke-width="3.6"/>
<line x1="238.7" y1="332.4" x2="264.5" y2="332.4" stroke="#1f701f" stroke-width="3.6"/>
<line x1="276.4" y1="332.4" x2="301.4" y2="332.4" stroke="#1f701f" stroke-width="3.6"/>
<line x1="314" y1="332.4" x2="338.3" y2="332.4" stroke="#1f701f" stroke-width="3.6"/>
<text x="423.4" y="345.2" font-size="43.5" fill="#2d842d">control HAD.001</text>
<line x1="202.5" y1="381.6" x2="327.2" y2="381.6" stroke="#0d0da6" stroke-width="3.6"/>
<rect x="343.3" y="376.4" width="4" height="4" fill="#0d0da6" opacity="0.75"/>
<text x="423.4" y="394.4" font-size="43.5" fill="#2020b0">UV-CVD.001</text>
<line x1="202.5" y1="430.8" x2="375.9" y2="430.8" stroke="#0d0da6" stroke-width="3.6"/>
<text x="423.4" y="443.6" font-size="43.5" fill="#2020b0">UV-FD.001</text>
<line x1="202.5" y1="480" x2="226.9" y2="480" stroke="#0d0da6" stroke-width="3.6"/>
<line x1="238.7" y1="480" x2="264.5" y2="480" stroke="#0d0da6" stroke-width="3.6"/>
<line x1="276.4" y1="480" x2="301.4" y2="480" stroke="#0d0da6" stroke-width="3.6"/>
<line x1="314" y1="480" x2="338.3" y2="480" stroke="#0d0da6" stroke-width="3.6"/>
<text x="423.4" y="492.8" font-size="43.5" fill="#2020b0">UV-HAD.001</text>
</svg>
</body></html>
